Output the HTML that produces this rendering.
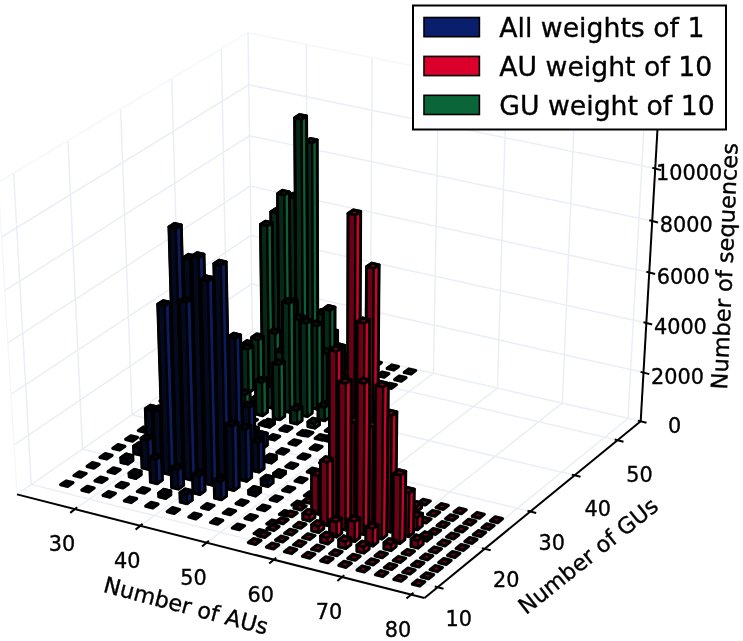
<!DOCTYPE html><html><head><meta charset="utf-8"><title>chart</title><style>html,body{margin:0;padding:0;background:#fff}svg{display:block}</style></head><body><svg width="743" height="641" viewBox="0 0 743 641" font-family="'DejaVu Sans','Liberation Sans',sans-serif" ><style>text{stroke:#000;stroke-width:0.35px}</style><rect width="743" height="641" fill="#fff"/><g fill="none" stroke="#ebeff5" stroke-width="1.5"><polyline points="74.9,509.2 307.7,344.3 306.3,44.5"/><polyline points="140.3,525.8 370.1,358.7 372.2,57.7"/><polyline points="206.6,542.6 433.4,373.3 438.9,71.1"/><polyline points="273.8,559.7 497.4,388.2 506.6,84.7"/><polyline points="342.0,577.1 562.3,403.2 575.2,98.5"/><polyline points="411.1,594.6 628.0,418.4 644.8,112.4"/><polyline points="437.7,587.3 31.3,484.5 13.6,173.3"/><polyline points="484.8,548.8 82.5,449.1 67.9,140.7"/><polyline points="530.4,511.5 132.1,414.8 120.6,109.1"/><polyline points="574.7,475.3 180.4,381.4 171.8,78.5"/><polyline points="617.6,440.2 227.2,348.9 221.3,48.8"/><polyline points="14.1,444.9 251.7,283.9 643.5,372.6"/><polyline points="11.0,394.4 251.0,235.4 646.4,323.0"/><polyline points="7.9,342.9 250.3,186.1 649.3,272.5"/><polyline points="4.8,290.5 249.5,135.9 652.2,221.0"/><polyline points="1.6,237.0 248.8,84.8 655.2,168.6"/><polyline points="17.0,494.4 252.4,331.5 640.7,421.3"/><polyline points="252.4,331.5 248.0,32.8"/></g><g fill="none" stroke="#f4f6f9" stroke-width="1.3"><polyline points="17.0,494.4 -1.7,182.4 248.0,32.8 658.3,115.1"/></g><g><g stroke="#000" stroke-linejoin="round"><polygon points="252.0,337.1 258.5,338.6 263.3,335.3 256.8,333.8" fill="#032112" stroke-width="3.3"/><polygon points="268.7,341.0 275.2,342.5 280.0,339.1 273.5,337.6" fill="#032112" stroke-width="3.3"/><polygon points="285.5,344.9 292.0,346.4 296.7,343.0 290.2,341.5" fill="#032112" stroke-width="3.3"/><polygon points="302.3,348.7 308.8,350.3 308.8,347.9 302.3,346.4" fill="#042916" stroke-width="2.3"/><polygon points="308.8,350.3 313.5,346.9 313.5,344.5 308.8,347.9" fill="#0a6135" stroke-width="2.3"/><polygon points="302.3,346.4 308.8,347.9 313.5,344.5 307.0,343.0" fill="#032112" stroke-width="2.9"/><polygon points="302.3,348.7 308.8,350.3 313.5,346.9 313.5,344.5 307.0,343.0 302.3,346.4" fill="none" stroke-width="2.9"/><polygon points="319.1,352.7 325.7,354.2 325.7,350.6 319.1,349.1" fill="#042916" stroke-width="2.3"/><polygon points="325.7,354.2 330.4,350.8 330.4,347.3 325.7,350.6" fill="#0a6135" stroke-width="2.3"/><polygon points="319.1,349.1 325.7,350.6 330.4,347.3 323.8,345.7" fill="#032112" stroke-width="2.9"/><polygon points="319.1,352.7 325.7,354.2 330.4,350.8 330.4,347.3 323.8,345.7 319.1,349.1" fill="none" stroke-width="2.9"/><polygon points="336.1,356.6 342.6,358.1 347.3,354.7 340.8,353.2" fill="#032112" stroke-width="3.3"/><polygon points="353.0,360.5 359.6,362.1 364.3,358.7 357.7,357.1" fill="#032112" stroke-width="3.3"/><polygon points="370.1,364.5 376.7,366.0 381.3,362.6 374.7,361.1" fill="#032112" stroke-width="3.3"/><polygon points="387.2,368.4 393.8,370.0 398.4,366.6 391.8,365.0" fill="#032112" stroke-width="3.3"/><polygon points="404.3,372.4 411.0,374.0 415.6,370.5 408.9,369.0" fill="#032112" stroke-width="3.3"/><polygon points="242.1,344.0 248.5,345.5 253.3,342.2 246.9,340.7" fill="#032112" stroke-width="3.3"/><polygon points="258.8,347.9 265.3,349.4 270.1,346.1 263.6,344.6" fill="#032112" stroke-width="3.3"/><polygon points="275.6,351.8 282.1,353.3 282.0,346.2 275.5,344.7" fill="#042916" stroke-width="2.3"/><polygon points="282.1,353.3 286.9,350.0 286.8,342.9 282.0,346.2" fill="#0a6135" stroke-width="2.3"/><polygon points="275.5,344.7 282.0,346.2 286.8,342.9 280.3,341.3" fill="#032112" stroke-width="2.9"/><polygon points="275.6,351.8 282.1,353.3 286.9,350.0 286.8,342.9 280.3,341.3 275.5,344.7" fill="none" stroke-width="2.9"/><polygon points="292.4,355.7 298.9,357.3 298.8,338.2 292.3,336.7" fill="#042916" stroke-width="2.3"/><polygon points="298.9,357.3 303.7,353.9 303.6,334.8 298.8,338.2" fill="#0a6135" stroke-width="2.3"/><polygon points="292.3,336.7 298.8,338.2 303.6,334.8 297.0,333.3" fill="#032112" stroke-width="2.9"/><polygon points="292.4,355.7 298.9,357.3 303.7,353.9 303.6,334.8 297.0,333.3 292.3,336.7" fill="none" stroke-width="2.9"/><polygon points="309.3,359.7 315.9,361.2 315.8,332.5 309.2,331.0" fill="#042916" stroke-width="2.3"/><polygon points="315.9,361.2 320.6,357.8 320.5,329.2 315.8,332.5" fill="#0a6135" stroke-width="2.3"/><polygon points="309.2,331.0 315.8,332.5 320.5,329.2 313.9,327.6" fill="#032112" stroke-width="2.9"/><polygon points="309.3,359.7 315.9,361.2 320.6,357.8 320.5,329.2 313.9,327.6 309.2,331.0" fill="none" stroke-width="2.9"/><polygon points="326.3,363.6 332.8,365.2 332.8,333.7 326.2,332.1" fill="#042916" stroke-width="2.3"/><polygon points="332.8,365.2 337.6,361.8 337.6,330.3 332.8,333.7" fill="#0a6135" stroke-width="2.3"/><polygon points="326.2,332.1 332.8,333.7 337.6,330.3 331.0,328.8" fill="#032112" stroke-width="2.9"/><polygon points="326.3,363.6 332.8,365.2 337.6,361.8 337.6,330.3 331.0,328.8 326.2,332.1" fill="none" stroke-width="2.9"/><polygon points="343.3,367.6 349.9,369.1 349.9,364.4 343.3,362.8" fill="#042916" stroke-width="2.3"/><polygon points="349.9,369.1 354.6,365.7 354.6,360.9 349.9,364.4" fill="#0a6135" stroke-width="2.3"/><polygon points="343.3,362.8 349.9,364.4 354.6,360.9 348.0,359.4" fill="#032112" stroke-width="2.9"/><polygon points="343.3,367.6 349.9,369.1 354.6,365.7 354.6,360.9 348.0,359.4 343.3,362.8" fill="none" stroke-width="2.9"/><polygon points="360.3,371.6 367.0,373.1 371.7,369.7 365.0,368.1" fill="#032112" stroke-width="3.3"/><polygon points="377.5,375.6 384.1,377.1 388.8,373.7 382.1,372.1" fill="#032112" stroke-width="3.3"/><polygon points="394.7,379.6 401.3,381.1 406.0,377.7 399.3,376.1" fill="#032112" stroke-width="3.3"/><polygon points="232.0,351.0 238.5,352.5 243.3,349.1 236.9,347.6" fill="#032112" stroke-width="3.3"/><polygon points="248.8,354.9 255.3,356.4 260.1,353.0 253.6,351.5" fill="#032112" stroke-width="3.3"/><polygon points="265.6,358.8 272.1,360.4 271.8,333.6 265.3,332.1" fill="#042916" stroke-width="2.3"/><polygon points="272.1,360.4 276.9,357.0 276.6,330.3 271.8,333.6" fill="#0a6135" stroke-width="2.3"/><polygon points="265.3,332.1 271.8,333.6 276.6,330.3 270.1,328.8" fill="#032112" stroke-width="2.9"/><polygon points="265.6,358.8 272.1,360.4 276.9,357.0 276.6,330.3 270.1,328.8 265.3,332.1" fill="none" stroke-width="2.9"/><polygon points="282.5,362.8 289.0,364.3 288.4,292.0 281.8,290.5" fill="#042916" stroke-width="2.3"/><polygon points="289.0,364.3 293.8,360.9 293.3,288.6 288.4,292.0" fill="#0a6135" stroke-width="2.3"/><polygon points="281.8,290.5 288.4,292.0 293.3,288.6 286.6,287.1" fill="#032112" stroke-width="2.9"/><polygon points="282.5,362.8 289.0,364.3 293.8,360.9 293.3,288.6 286.6,287.1 281.8,290.5" fill="none" stroke-width="2.9"/><polygon points="299.4,366.7 306.0,368.3 305.4,258.9 298.7,257.4" fill="#042916" stroke-width="2.3"/><polygon points="306.0,368.3 310.7,364.9 310.3,255.6 305.4,258.9" fill="#0a6135" stroke-width="2.3"/><polygon points="298.7,257.4 305.4,258.9 310.3,255.6 303.6,254.1" fill="#032112" stroke-width="2.9"/><polygon points="299.4,366.7 306.0,368.3 310.7,364.9 310.3,255.6 303.6,254.1 298.7,257.4" fill="none" stroke-width="2.9"/><polygon points="316.4,370.7 323.0,372.3 322.9,314.4 316.2,312.9" fill="#042916" stroke-width="2.3"/><polygon points="323.0,372.3 327.7,368.8 327.7,311.0 322.9,314.4" fill="#0a6135" stroke-width="2.3"/><polygon points="316.2,312.9 322.9,314.4 327.7,311.0 321.0,309.5" fill="#032112" stroke-width="2.9"/><polygon points="316.4,370.7 323.0,372.3 327.7,368.8 327.7,311.0 321.0,309.5 316.2,312.9" fill="none" stroke-width="2.9"/><polygon points="333.4,374.7 340.1,376.2 340.1,348.7 333.4,347.1" fill="#042916" stroke-width="2.3"/><polygon points="340.1,376.2 344.8,372.8 344.8,345.3 340.1,348.7" fill="#0a6135" stroke-width="2.3"/><polygon points="333.4,347.1 340.1,348.7 344.8,345.3 338.2,343.7" fill="#032112" stroke-width="2.9"/><polygon points="333.4,374.7 340.1,376.2 344.8,372.8 344.8,345.3 338.2,343.7 333.4,347.1" fill="none" stroke-width="2.9"/><polygon points="350.5,378.7 357.2,380.3 361.9,376.8 355.3,375.3" fill="#032112" stroke-width="3.3"/><polygon points="367.7,382.7 374.4,384.3 379.1,380.8 372.4,379.3" fill="#032112" stroke-width="3.3"/><polygon points="384.9,386.7 391.6,388.3 396.3,384.8 389.6,383.3" fill="#032112" stroke-width="3.3"/><polygon points="221.9,358.0 228.4,359.5 233.3,356.1 226.8,354.6" fill="#032112" stroke-width="3.3"/><polygon points="238.7,361.9 245.2,363.5 245.2,358.7 238.6,357.2" fill="#042916" stroke-width="2.3"/><polygon points="245.2,363.5 250.1,360.1 250.0,355.3 245.2,358.7" fill="#0a6135" stroke-width="2.3"/><polygon points="238.6,357.2 245.2,358.7 250.0,355.3 243.5,353.8" fill="#032112" stroke-width="2.9"/><polygon points="238.7,361.9 245.2,363.5 250.1,360.1 250.0,355.3 243.5,353.8 238.6,357.2" fill="none" stroke-width="2.9"/><polygon points="255.6,365.9 262.1,367.4 261.7,339.8 255.2,338.3" fill="#042916" stroke-width="2.3"/><polygon points="262.1,367.4 266.9,364.0 266.6,336.5 261.7,339.8" fill="#0a6135" stroke-width="2.3"/><polygon points="255.2,338.3 261.7,339.8 266.6,336.5 260.0,334.9" fill="#032112" stroke-width="2.9"/><polygon points="255.6,365.9 262.1,367.4 266.9,364.0 266.6,336.5 260.0,334.9 255.2,338.3" fill="none" stroke-width="2.9"/><polygon points="272.5,369.9 279.0,371.4 277.4,213.4 270.7,211.9" fill="#042916" stroke-width="2.3"/><polygon points="279.0,371.4 283.9,368.0 282.4,210.1 277.4,213.4" fill="#0a6135" stroke-width="2.3"/><polygon points="270.7,211.9 277.4,213.4 282.4,210.1 275.6,208.6" fill="#032112" stroke-width="2.9"/><polygon points="272.5,369.9 279.0,371.4 283.9,368.0 282.4,210.1 275.6,208.6 270.7,211.9" fill="none" stroke-width="2.9"/><polygon points="289.4,373.8 296.0,375.4 294.8,197.9 288.0,196.4" fill="#042916" stroke-width="2.3"/><polygon points="296.0,375.4 300.8,372.0 299.7,194.6 294.8,197.9" fill="#0a6135" stroke-width="2.3"/><polygon points="288.0,196.4 294.8,197.9 299.7,194.6 292.9,193.1" fill="#032112" stroke-width="2.9"/><polygon points="289.4,373.8 296.0,375.4 300.8,372.0 299.7,194.6 292.9,193.1 288.0,196.4" fill="none" stroke-width="2.9"/><polygon points="306.5,377.8 313.1,379.4 312.2,143.0 305.3,141.6" fill="#042916" stroke-width="2.3"/><polygon points="313.1,379.4 317.9,375.9 317.2,139.8 312.2,143.0" fill="#0a6135" stroke-width="2.3"/><polygon points="305.3,141.6 312.2,143.0 317.2,139.8 310.3,138.4" fill="#032112" stroke-width="2.9"/><polygon points="306.5,377.8 313.1,379.4 317.9,375.9 317.2,139.8 310.3,138.4 305.3,141.6" fill="none" stroke-width="2.9"/><polygon points="323.5,381.9 330.2,383.4 330.1,310.5 323.4,308.9" fill="#042916" stroke-width="2.3"/><polygon points="330.2,383.4 334.9,380.0 335.0,307.1 330.1,310.5" fill="#0a6135" stroke-width="2.3"/><polygon points="323.4,308.9 330.1,310.5 335.0,307.1 328.2,305.5" fill="#032112" stroke-width="2.9"/><polygon points="323.5,381.9 330.2,383.4 334.9,380.0 335.0,307.1 328.2,305.5 323.4,308.9" fill="none" stroke-width="2.9"/><polygon points="340.7,385.9 347.4,387.4 347.4,380.3 340.7,378.7" fill="#042916" stroke-width="2.3"/><polygon points="347.4,387.4 352.1,384.0 352.1,376.8 347.4,380.3" fill="#0a6135" stroke-width="2.3"/><polygon points="340.7,378.7 347.4,380.3 352.1,376.8 345.5,375.2" fill="#032112" stroke-width="2.9"/><polygon points="340.7,385.9 347.4,387.4 352.1,384.0 352.1,376.8 345.5,375.2 340.7,378.7" fill="none" stroke-width="2.9"/><polygon points="357.9,389.9 364.6,391.5 369.3,388.0 362.6,386.4" fill="#032112" stroke-width="3.3"/><polygon points="375.2,394.0 381.9,395.5 386.6,392.1 379.9,390.5" fill="#032112" stroke-width="3.3"/><polygon points="211.8,365.0 218.3,366.6 223.2,363.2 216.7,361.6" fill="#032112" stroke-width="3.3"/><polygon points="228.6,369.0 235.1,370.5 235.1,367.0 228.5,365.4" fill="#042916" stroke-width="2.3"/><polygon points="235.1,370.5 240.0,367.1 239.9,363.6 235.1,367.0" fill="#0a6135" stroke-width="2.3"/><polygon points="228.5,365.4 235.1,367.0 239.9,363.6 233.4,362.0" fill="#032112" stroke-width="2.9"/><polygon points="228.6,369.0 235.1,370.5 240.0,367.1 239.9,363.6 233.4,362.0 228.5,365.4" fill="none" stroke-width="2.9"/><polygon points="245.5,373.0 252.0,374.5 251.7,354.9 245.1,353.3" fill="#042916" stroke-width="2.3"/><polygon points="252.0,374.5 256.9,371.1 256.6,351.5 251.7,354.9" fill="#0a6135" stroke-width="2.3"/><polygon points="245.1,353.3 251.7,354.9 256.6,351.5 250.0,349.9" fill="#032112" stroke-width="2.9"/><polygon points="245.5,373.0 252.0,374.5 256.9,371.1 256.6,351.5 250.0,349.9 245.1,353.3" fill="none" stroke-width="2.9"/><polygon points="262.4,377.0 269.0,378.5 267.2,226.0 260.4,224.5" fill="#042916" stroke-width="2.3"/><polygon points="269.0,378.5 273.8,375.1 272.2,222.7 267.2,226.0" fill="#0a6135" stroke-width="2.3"/><polygon points="260.4,224.5 267.2,226.0 272.2,222.7 265.4,221.2" fill="#032112" stroke-width="2.9"/><polygon points="262.4,377.0 269.0,378.5 273.8,375.1 272.2,222.7 265.4,221.2 260.4,224.5" fill="none" stroke-width="2.9"/><polygon points="279.4,381.0 286.0,382.5 284.4,195.1 277.5,193.6" fill="#042916" stroke-width="2.3"/><polygon points="286.0,382.5 290.8,379.1 289.4,191.8 284.4,195.1" fill="#0a6135" stroke-width="2.3"/><polygon points="277.5,193.6 284.4,195.1 289.4,191.8 282.5,190.3" fill="#032112" stroke-width="2.9"/><polygon points="279.4,381.0 286.0,382.5 290.8,379.1 289.4,191.8 282.5,190.3 277.5,193.6" fill="none" stroke-width="2.9"/><polygon points="296.5,385.0 303.1,386.6 301.6,119.2 294.6,117.8" fill="#042916" stroke-width="2.3"/><polygon points="303.1,386.6 307.9,383.1 306.6,116.0 301.6,119.2" fill="#0a6135" stroke-width="2.3"/><polygon points="294.6,117.8 301.6,119.2 306.6,116.0 299.7,114.6" fill="#032112" stroke-width="2.9"/><polygon points="296.5,385.0 303.1,386.6 307.9,383.1 306.6,116.0 299.7,114.6 294.6,117.8" fill="none" stroke-width="2.9"/><polygon points="313.6,389.0 320.2,390.6 320.2,354.4 313.5,352.9" fill="#042916" stroke-width="2.3"/><polygon points="320.2,390.6 325.0,387.1 325.0,351.0 320.2,354.4" fill="#0a6135" stroke-width="2.3"/><polygon points="313.5,352.9 320.2,354.4 325.0,351.0 318.3,349.4" fill="#032112" stroke-width="2.9"/><polygon points="313.6,389.0 320.2,390.6 325.0,387.1 325.0,351.0 318.3,349.4 313.5,352.9" fill="none" stroke-width="2.9"/><polygon points="330.8,393.1 337.5,394.7 337.5,385.1 330.8,383.5" fill="#042916" stroke-width="2.3"/><polygon points="337.5,394.7 342.2,391.2 342.2,381.6 337.5,385.1" fill="#0a6135" stroke-width="2.3"/><polygon points="330.8,383.5 337.5,385.1 342.2,381.6 335.6,380.0" fill="#032112" stroke-width="2.9"/><polygon points="330.8,393.1 337.5,394.7 342.2,391.2 342.2,381.6 335.6,380.0 330.8,383.5" fill="none" stroke-width="2.9"/><polygon points="348.0,397.2 354.7,398.7 359.5,395.2 352.8,393.7" fill="#032112" stroke-width="3.3"/><polygon points="365.3,401.2 372.0,402.8 376.8,399.3 370.1,397.7" fill="#032112" stroke-width="3.3"/><polygon points="201.5,372.1 208.1,373.7 213.0,370.3 206.5,368.7" fill="#032112" stroke-width="3.3"/><polygon points="218.4,376.1 224.9,377.7 229.9,374.2 223.3,372.7" fill="#032112" stroke-width="3.3"/><polygon points="235.3,380.1 241.9,381.7 241.8,374.5 235.2,373.0" fill="#042916" stroke-width="2.3"/><polygon points="241.9,381.7 246.8,378.2 246.7,371.1 241.8,374.5" fill="#0a6135" stroke-width="2.3"/><polygon points="235.2,373.0 241.8,374.5 246.7,371.1 240.1,369.5" fill="#032112" stroke-width="2.9"/><polygon points="235.3,380.1 241.9,381.7 246.8,378.2 246.7,371.1 240.1,369.5 235.2,373.0" fill="none" stroke-width="2.9"/><polygon points="252.3,384.1 258.9,385.7 258.3,339.9 251.6,338.3" fill="#042916" stroke-width="2.3"/><polygon points="258.9,385.7 263.8,382.2 263.2,336.5 258.3,339.9" fill="#0a6135" stroke-width="2.3"/><polygon points="251.6,338.3 258.3,339.9 263.2,336.5 256.5,334.9" fill="#032112" stroke-width="2.9"/><polygon points="252.3,384.1 258.9,385.7 263.8,382.2 263.2,336.5 256.5,334.9 251.6,338.3" fill="none" stroke-width="2.9"/><polygon points="269.3,388.2 275.9,389.8 275.3,333.7 268.7,332.1" fill="#042916" stroke-width="2.3"/><polygon points="275.9,389.8 280.8,386.3 280.3,330.3 275.3,333.7" fill="#0a6135" stroke-width="2.3"/><polygon points="268.7,332.1 275.3,333.7 280.3,330.3 273.6,328.7" fill="#032112" stroke-width="2.9"/><polygon points="269.3,388.2 275.9,389.8 280.8,386.3 280.3,330.3 273.6,328.7 268.7,332.1" fill="none" stroke-width="2.9"/><polygon points="286.4,392.2 293.1,393.8 292.4,303.5 285.6,301.9" fill="#042916" stroke-width="2.3"/><polygon points="293.1,393.8 297.9,390.3 297.3,300.1 292.4,303.5" fill="#0a6135" stroke-width="2.3"/><polygon points="285.6,301.9 292.4,303.5 297.3,300.1 290.6,298.5" fill="#032112" stroke-width="2.9"/><polygon points="286.4,392.2 293.1,393.8 297.9,390.3 297.3,300.1 290.6,298.5 285.6,301.9" fill="none" stroke-width="2.9"/><polygon points="303.6,396.3 310.2,397.9 309.9,324.9 303.2,323.4" fill="#042916" stroke-width="2.3"/><polygon points="310.2,397.9 315.1,394.4 314.8,321.5 309.9,324.9" fill="#0a6135" stroke-width="2.3"/><polygon points="303.2,323.4 309.9,324.9 314.8,321.5 308.1,319.9" fill="#032112" stroke-width="2.9"/><polygon points="303.6,396.3 310.2,397.9 315.1,394.4 314.8,321.5 308.1,319.9 303.2,323.4" fill="none" stroke-width="2.9"/><polygon points="320.8,400.4 327.5,402.0 327.4,353.5 320.7,351.9" fill="#042916" stroke-width="2.3"/><polygon points="327.5,402.0 332.3,398.4 332.3,350.0 327.4,353.5" fill="#0a6135" stroke-width="2.3"/><polygon points="320.7,351.9 327.4,353.5 332.3,350.0 325.5,348.4" fill="#032112" stroke-width="2.9"/><polygon points="320.8,400.4 327.5,402.0 332.3,398.4 332.3,350.0 325.5,348.4 320.7,351.9" fill="none" stroke-width="2.9"/><polygon points="338.1,404.5 344.8,406.1 344.8,398.8 338.1,397.2" fill="#042916" stroke-width="2.3"/><polygon points="344.8,406.1 349.6,402.5 349.6,395.3 344.8,398.8" fill="#0a6135" stroke-width="2.3"/><polygon points="338.1,397.2 344.8,398.8 349.6,395.3 342.9,393.7" fill="#032112" stroke-width="2.9"/><polygon points="338.1,404.5 344.8,406.1 349.6,402.5 349.6,395.3 342.9,393.7 338.1,397.2" fill="none" stroke-width="2.9"/><polygon points="355.4,408.6 362.2,410.2 366.9,406.6 360.2,405.0" fill="#032112" stroke-width="3.3"/><polygon points="191.2,379.3 197.8,380.8 202.7,377.4 196.2,375.8" fill="#032112" stroke-width="3.3"/><polygon points="208.1,383.3 214.7,384.8 219.6,381.4 213.1,379.8" fill="#032112" stroke-width="3.3"/><polygon points="225.1,387.3 231.7,388.9 231.6,386.5 225.0,384.9" fill="#042916" stroke-width="2.3"/><polygon points="231.7,388.9 236.6,385.4 236.6,383.0 231.6,386.5" fill="#0a6135" stroke-width="2.3"/><polygon points="225.0,384.9 231.6,386.5 236.6,383.0 230.0,381.5" fill="#032112" stroke-width="2.9"/><polygon points="225.1,387.3 231.7,388.9 236.6,385.4 236.6,383.0 230.0,381.5 225.0,384.9" fill="none" stroke-width="2.9"/><polygon points="242.1,391.4 248.7,392.9 248.0,349.4 241.4,347.9" fill="#042916" stroke-width="2.3"/><polygon points="248.7,392.9 253.6,389.4 253.0,346.0 248.0,349.4" fill="#0a6135" stroke-width="2.3"/><polygon points="241.4,347.9 248.0,349.4 253.0,346.0 246.3,344.4" fill="#032112" stroke-width="2.9"/><polygon points="242.1,391.4 248.7,392.9 253.6,389.4 253.0,346.0 246.3,344.4 241.4,347.9" fill="none" stroke-width="2.9"/><polygon points="259.2,395.4 265.8,397.0 265.6,382.5 259.0,380.9" fill="#042916" stroke-width="2.3"/><polygon points="265.8,397.0 270.7,393.5 270.5,379.0 265.6,382.5" fill="#0a6135" stroke-width="2.3"/><polygon points="259.0,380.9 265.6,382.5 270.5,379.0 263.9,377.5" fill="#032112" stroke-width="2.9"/><polygon points="259.2,395.4 265.8,397.0 270.7,393.5 270.5,379.0 263.9,377.5 259.0,380.9" fill="none" stroke-width="2.9"/><polygon points="276.3,399.5 283.0,401.1 282.5,352.6 275.8,351.0" fill="#042916" stroke-width="2.3"/><polygon points="283.0,401.1 287.8,397.6 287.4,349.1 282.5,352.6" fill="#0a6135" stroke-width="2.3"/><polygon points="275.8,351.0 282.5,352.6 287.4,349.1 280.7,347.6" fill="#032112" stroke-width="2.9"/><polygon points="276.3,399.5 283.0,401.1 287.8,397.6 287.4,349.1 280.7,347.6 275.8,351.0" fill="none" stroke-width="2.9"/><polygon points="293.5,403.6 300.2,405.2 299.7,319.7 292.9,318.1" fill="#042916" stroke-width="2.3"/><polygon points="300.2,405.2 305.0,401.6 304.6,316.2 299.7,319.7" fill="#0a6135" stroke-width="2.3"/><polygon points="292.9,318.1 299.7,319.7 304.6,316.2 297.8,314.7" fill="#032112" stroke-width="2.9"/><polygon points="293.5,403.6 300.2,405.2 305.0,401.6 304.6,316.2 297.8,314.7 292.9,318.1" fill="none" stroke-width="2.9"/><polygon points="310.8,407.7 317.5,409.3 317.2,326.2 310.4,324.6" fill="#042916" stroke-width="2.3"/><polygon points="317.5,409.3 322.3,405.7 322.1,322.7 317.2,326.2" fill="#0a6135" stroke-width="2.3"/><polygon points="310.4,324.6 317.2,326.2 322.1,322.7 315.3,321.2" fill="#032112" stroke-width="2.9"/><polygon points="310.8,407.7 317.5,409.3 322.3,405.7 322.1,322.7 315.3,321.2 310.4,324.6" fill="none" stroke-width="2.9"/><polygon points="328.1,411.8 334.8,413.4 334.8,384.3 328.0,382.8" fill="#042916" stroke-width="2.3"/><polygon points="334.8,413.4 339.6,409.9 339.7,380.8 334.8,384.3" fill="#0a6135" stroke-width="2.3"/><polygon points="328.0,382.8 334.8,384.3 339.7,380.8 332.9,379.2" fill="#032112" stroke-width="2.9"/><polygon points="328.1,411.8 334.8,413.4 339.6,409.9 339.7,380.8 332.9,379.2 328.0,382.8" fill="none" stroke-width="2.9"/><polygon points="345.5,415.9 352.2,417.5 357.0,414.0 350.3,412.4" fill="#032112" stroke-width="3.3"/><polygon points="180.9,386.5 187.4,388.0 192.4,384.5 185.9,383.0" fill="#032112" stroke-width="3.3"/><polygon points="197.8,390.5 204.4,392.1 209.4,388.6 202.8,387.0" fill="#032112" stroke-width="3.3"/><polygon points="214.8,394.6 221.4,396.1 226.4,392.6 219.8,391.1" fill="#032112" stroke-width="3.3"/><polygon points="231.9,398.6 238.5,400.2 243.4,396.7 236.8,395.1" fill="#032112" stroke-width="3.3"/><polygon points="249.0,402.7 255.6,404.3 255.6,401.9 248.9,400.3" fill="#042916" stroke-width="2.3"/><polygon points="255.6,404.3 260.5,400.8 260.5,398.4 255.6,401.9" fill="#0a6135" stroke-width="2.3"/><polygon points="248.9,400.3 255.6,401.9 260.5,398.4 253.9,396.8" fill="#032112" stroke-width="2.9"/><polygon points="249.0,402.7 255.6,404.3 260.5,400.8 260.5,398.4 253.9,396.8 248.9,400.3" fill="none" stroke-width="2.9"/><polygon points="266.1,406.8 272.8,408.4 272.6,386.7 265.9,385.1" fill="#042916" stroke-width="2.3"/><polygon points="272.8,408.4 277.7,404.9 277.5,383.1 272.6,386.7" fill="#0a6135" stroke-width="2.3"/><polygon points="265.9,385.1 272.6,386.7 277.5,383.1 270.8,381.6" fill="#032112" stroke-width="2.9"/><polygon points="266.1,406.8 272.8,408.4 277.7,404.9 277.5,383.1 270.8,381.6 265.9,385.1" fill="none" stroke-width="2.9"/><polygon points="283.4,410.9 290.1,412.5 289.2,303.5 282.3,302.0" fill="#042916" stroke-width="2.3"/><polygon points="290.1,412.5 294.9,409.0 294.2,300.1 289.2,303.5" fill="#0a6135" stroke-width="2.3"/><polygon points="282.3,302.0 289.2,303.5 294.2,300.1 287.3,298.5" fill="#032112" stroke-width="2.9"/><polygon points="283.4,410.9 290.1,412.5 294.9,409.0 294.2,300.1 287.3,298.5 282.3,302.0" fill="none" stroke-width="2.9"/><polygon points="300.7,415.0 307.4,416.7 306.9,323.4 300.1,321.9" fill="#042916" stroke-width="2.3"/><polygon points="307.4,416.7 312.2,413.1 311.9,320.0 306.9,323.4" fill="#0a6135" stroke-width="2.3"/><polygon points="300.1,321.9 306.9,323.4 311.9,320.0 305.0,318.4" fill="#032112" stroke-width="2.9"/><polygon points="300.7,415.0 307.4,416.7 312.2,413.1 311.9,320.0 305.0,318.4 300.1,321.9" fill="none" stroke-width="2.9"/><polygon points="318.0,419.2 324.8,420.8 324.7,407.5 318.0,405.9" fill="#042916" stroke-width="2.3"/><polygon points="324.8,420.8 329.6,417.2 329.6,403.9 324.7,407.5" fill="#0a6135" stroke-width="2.3"/><polygon points="318.0,405.9 324.7,407.5 329.6,403.9 322.8,402.3" fill="#032112" stroke-width="2.9"/><polygon points="318.0,419.2 324.8,420.8 329.6,417.2 329.6,403.9 322.8,402.3 318.0,405.9" fill="none" stroke-width="2.9"/><polygon points="335.4,423.3 342.2,425.0 347.0,421.4 340.3,419.8" fill="#032112" stroke-width="3.3"/><polygon points="170.5,393.7 177.0,395.3 182.1,391.8 175.5,390.2" fill="#032112" stroke-width="3.3"/><polygon points="187.4,397.7 194.0,399.3 199.0,395.8 192.5,394.2" fill="#032112" stroke-width="3.3"/><polygon points="204.5,401.8 211.1,403.4 216.1,399.9 209.5,398.3" fill="#032112" stroke-width="3.3"/><polygon points="221.6,405.9 228.2,407.5 233.2,404.0 226.5,402.4" fill="#032112" stroke-width="3.3"/><polygon points="238.7,410.0 245.4,411.6 245.1,394.7 238.4,393.1" fill="#042916" stroke-width="2.3"/><polygon points="245.4,411.6 250.3,408.1 250.0,391.2 245.1,394.7" fill="#0a6135" stroke-width="2.3"/><polygon points="238.4,393.1 245.1,394.7 250.0,391.2 243.4,389.6" fill="#032112" stroke-width="2.9"/><polygon points="238.7,410.0 245.4,411.6 250.3,408.1 250.0,391.2 243.4,389.6 238.4,393.1" fill="none" stroke-width="2.9"/><polygon points="255.9,414.2 262.6,415.8 262.1,382.6 255.4,381.0" fill="#042916" stroke-width="2.3"/><polygon points="262.6,415.8 267.5,412.2 267.1,379.0 262.1,382.6" fill="#0a6135" stroke-width="2.3"/><polygon points="255.4,381.0 262.1,382.6 267.1,379.0 260.4,377.5" fill="#032112" stroke-width="2.9"/><polygon points="255.9,414.2 262.6,415.8 267.5,412.2 267.1,379.0 260.4,377.5 255.4,381.0" fill="none" stroke-width="2.9"/><polygon points="273.2,418.3 279.9,419.9 279.3,364.9 272.5,363.4" fill="#042916" stroke-width="2.3"/><polygon points="279.9,419.9 284.8,416.3 284.3,361.4 279.3,364.9" fill="#0a6135" stroke-width="2.3"/><polygon points="272.5,363.4 279.3,364.9 284.3,361.4 277.5,359.8" fill="#032112" stroke-width="2.9"/><polygon points="273.2,418.3 279.9,419.9 284.8,416.3 284.3,361.4 277.5,359.8 272.5,363.4" fill="none" stroke-width="2.9"/><polygon points="290.5,422.5 297.2,424.1 297.1,410.5 290.4,408.9" fill="#042916" stroke-width="2.3"/><polygon points="297.2,424.1 302.1,420.5 302.0,406.9 297.1,410.5" fill="#0a6135" stroke-width="2.3"/><polygon points="290.4,408.9 297.1,410.5 302.0,406.9 295.3,405.3" fill="#032112" stroke-width="2.9"/><polygon points="290.5,422.5 297.2,424.1 302.1,420.5 302.0,406.9 295.3,405.3 290.4,408.9" fill="none" stroke-width="2.9"/><polygon points="307.9,426.6 314.6,428.2 314.6,423.4 307.9,421.8" fill="#042916" stroke-width="2.3"/><polygon points="314.6,428.2 319.5,424.7 319.5,419.8 314.6,423.4" fill="#0a6135" stroke-width="2.3"/><polygon points="307.9,421.8 314.6,423.4 319.5,419.8 312.8,418.2" fill="#032112" stroke-width="2.9"/><polygon points="307.9,426.6 314.6,428.2 319.5,424.7 319.5,419.8 312.8,418.2 307.9,421.8" fill="none" stroke-width="2.9"/><polygon points="325.3,430.8 332.1,432.4 337.0,428.8 330.2,427.2" fill="#032112" stroke-width="3.3"/><polygon points="160.0,401.0 166.6,402.5 171.6,399.0 165.1,397.4" fill="#032112" stroke-width="3.3"/><polygon points="177.0,405.0 183.6,406.6 188.6,403.1 182.0,401.5" fill="#032112" stroke-width="3.3"/><polygon points="194.1,409.2 200.7,410.7 205.7,407.2 199.1,405.6" fill="#032112" stroke-width="3.3"/><polygon points="211.2,413.3 217.8,414.9 222.8,411.3 216.2,409.7" fill="#032112" stroke-width="3.3"/><polygon points="228.4,417.4 235.0,419.0 240.0,415.5 233.3,413.9" fill="#032112" stroke-width="3.3"/><polygon points="245.6,421.6 252.3,423.2 257.3,419.6 250.6,418.0" fill="#032112" stroke-width="3.3"/><polygon points="262.9,425.7 269.6,427.3 269.6,424.4 262.9,422.8" fill="#042916" stroke-width="2.3"/><polygon points="269.6,427.3 274.6,423.8 274.5,420.9 269.6,424.4" fill="#0a6135" stroke-width="2.3"/><polygon points="262.9,422.8 269.6,424.4 274.5,420.9 267.8,419.2" fill="#032112" stroke-width="2.9"/><polygon points="262.9,425.7 269.6,427.3 274.6,423.8 274.5,420.9 267.8,419.2 262.9,422.8" fill="none" stroke-width="2.9"/><polygon points="280.3,429.9 287.0,431.5 291.9,427.9 285.2,426.3" fill="#032112" stroke-width="3.3"/><polygon points="297.7,434.1 304.5,435.7 309.4,432.1 302.6,430.5" fill="#032112" stroke-width="3.3"/><polygon points="315.2,438.3 322.0,440.0 326.9,436.3 320.1,434.7" fill="#032112" stroke-width="3.3"/></g><g stroke="#000" stroke-linejoin="round"><polygon points="175.9,404.4 182.5,406.0 187.5,402.5 180.9,400.9" fill="#030920" stroke-width="3.3"/><polygon points="196.5,409.4 203.1,411.0 208.2,407.4 201.5,405.9" fill="#030920" stroke-width="3.3"/><polygon points="217.3,414.4 223.9,416.0 228.9,412.4 222.3,410.8" fill="#030920" stroke-width="3.3"/><polygon points="238.1,419.4 244.8,421.0 249.7,417.4 243.1,415.8" fill="#030920" stroke-width="3.3"/><polygon points="259.0,424.4 265.7,426.0 270.7,422.5 263.9,420.8" fill="#030920" stroke-width="3.3"/><polygon points="280.0,429.5 286.7,431.1 291.7,427.5 284.9,425.9" fill="#030920" stroke-width="3.3"/><polygon points="301.1,434.6 307.9,436.2 312.8,432.6 306.0,430.9" fill="#030920" stroke-width="3.3"/><polygon points="322.3,439.7 329.1,441.3 334.0,437.7 327.2,436.0" fill="#030920" stroke-width="3.3"/><polygon points="343.6,444.8 350.4,446.4 355.3,442.8 348.4,441.1" fill="#030920" stroke-width="3.3"/><polygon points="364.9,449.9 371.8,451.6 376.6,447.9 369.8,446.3" fill="#030920" stroke-width="3.3"/><polygon points="163.5,413.1 170.1,414.7 175.2,411.1 168.5,409.5" fill="#030920" stroke-width="3.3"/><polygon points="184.2,418.1 190.8,419.7 195.9,416.1 189.2,414.5" fill="#030920" stroke-width="3.3"/><polygon points="205.0,423.1 211.6,424.7 211.5,419.9 204.8,418.3" fill="#03091e" stroke-width="2.3"/><polygon points="211.6,424.7 216.7,421.1 216.5,416.3 211.5,419.9" fill="#091c60" stroke-width="2.3"/><polygon points="204.8,418.3 211.5,419.9 216.5,416.3 209.9,414.7" fill="#030920" stroke-width="2.9"/><polygon points="205.0,423.1 211.6,424.7 216.7,421.1 216.5,416.3 209.9,414.7 204.8,418.3" fill="none" stroke-width="2.9"/><polygon points="225.8,428.2 232.5,429.8 232.4,422.5 225.7,420.9" fill="#03091e" stroke-width="2.3"/><polygon points="232.5,429.8 237.5,426.2 237.4,418.9 232.4,422.5" fill="#091c60" stroke-width="2.3"/><polygon points="225.7,420.9 232.4,422.5 237.4,418.9 230.7,417.3" fill="#030920" stroke-width="2.9"/><polygon points="225.8,428.2 232.5,429.8 237.5,426.2 237.4,418.9 230.7,417.3 225.7,420.9" fill="none" stroke-width="2.9"/><polygon points="246.8,433.2 253.5,434.9 253.5,431.2 246.7,429.6" fill="#03091e" stroke-width="2.3"/><polygon points="253.5,434.9 258.5,431.3 258.5,427.6 253.5,431.2" fill="#091c60" stroke-width="2.3"/><polygon points="246.7,429.6 253.5,431.2 258.5,427.6 251.7,426.0" fill="#030920" stroke-width="2.9"/><polygon points="246.8,433.2 253.5,434.9 258.5,431.3 258.5,427.6 251.7,426.0 246.7,429.6" fill="none" stroke-width="2.9"/><polygon points="267.9,438.3 274.6,440.0 279.6,436.3 272.8,434.7" fill="#030920" stroke-width="3.3"/><polygon points="289.0,443.4 295.8,445.1 300.7,441.4 294.0,439.8" fill="#030920" stroke-width="3.3"/><polygon points="310.2,448.6 317.1,450.2 322.0,446.6 315.2,444.9" fill="#030920" stroke-width="3.3"/><polygon points="331.6,453.7 338.4,455.4 343.3,451.7 336.5,450.1" fill="#030920" stroke-width="3.3"/><polygon points="353.0,458.9 359.9,460.6 364.8,456.9 357.9,455.2" fill="#030920" stroke-width="3.3"/><polygon points="151.0,421.8 157.6,423.4 162.7,419.8 156.1,418.2" fill="#030920" stroke-width="3.3"/><polygon points="171.7,426.8 178.4,428.5 178.3,426.0 171.6,424.4" fill="#03091e" stroke-width="2.3"/><polygon points="178.4,428.5 183.5,424.9 183.4,422.5 178.3,426.0" fill="#091c60" stroke-width="2.3"/><polygon points="171.6,424.4 178.3,426.0 183.4,422.5 176.7,420.8" fill="#030920" stroke-width="2.9"/><polygon points="171.7,426.8 178.4,428.5 183.5,424.9 183.4,422.5 176.7,420.8 171.6,424.4" fill="none" stroke-width="2.9"/><polygon points="192.6,431.9 199.2,433.5 198.3,397.0 191.6,395.4" fill="#03091e" stroke-width="2.3"/><polygon points="199.2,433.5 204.3,429.9 203.4,393.4 198.3,397.0" fill="#091c60" stroke-width="2.3"/><polygon points="191.6,395.4 198.3,397.0 203.4,393.4 196.7,391.8" fill="#030920" stroke-width="2.9"/><polygon points="192.6,431.9 199.2,433.5 204.3,429.9 203.4,393.4 196.7,391.8 191.6,395.4" fill="none" stroke-width="2.9"/><polygon points="213.5,437.0 220.2,438.6 219.1,384.8 212.3,383.2" fill="#03091e" stroke-width="2.3"/><polygon points="220.2,438.6 225.3,435.0 224.2,381.2 219.1,384.8" fill="#091c60" stroke-width="2.3"/><polygon points="212.3,383.2 219.1,384.8 224.2,381.2 217.4,379.6" fill="#030920" stroke-width="2.9"/><polygon points="213.5,437.0 220.2,438.6 225.3,435.0 224.2,381.2 217.4,379.6 212.3,383.2" fill="none" stroke-width="2.9"/><polygon points="234.5,442.1 241.3,443.8 240.6,407.1 233.8,405.5" fill="#03091e" stroke-width="2.3"/><polygon points="241.3,443.8 246.3,440.1 245.7,403.5 240.6,407.1" fill="#091c60" stroke-width="2.3"/><polygon points="233.8,405.5 240.6,407.1 245.7,403.5 238.9,401.9" fill="#030920" stroke-width="2.9"/><polygon points="234.5,442.1 241.3,443.8 246.3,440.1 245.7,403.5 238.9,401.9 233.8,405.5" fill="none" stroke-width="2.9"/><polygon points="255.6,447.2 262.4,448.9 262.2,436.7 255.4,435.1" fill="#03091e" stroke-width="2.3"/><polygon points="262.4,448.9 267.4,445.2 267.2,433.1 262.2,436.7" fill="#091c60" stroke-width="2.3"/><polygon points="255.4,435.1 262.2,436.7 267.2,433.1 260.5,431.4" fill="#030920" stroke-width="2.9"/><polygon points="255.6,447.2 262.4,448.9 267.4,445.2 267.2,433.1 260.5,431.4 255.4,435.1" fill="none" stroke-width="2.9"/><polygon points="276.8,452.4 283.6,454.1 288.6,450.4 281.8,448.7" fill="#030920" stroke-width="3.3"/><polygon points="298.1,457.6 304.9,459.2 309.9,455.6 303.1,453.9" fill="#030920" stroke-width="3.3"/><polygon points="319.5,462.8 326.4,464.4 331.3,460.7 324.4,459.1" fill="#030920" stroke-width="3.3"/><polygon points="341.0,468.0 347.9,469.7 352.8,466.0 345.9,464.3" fill="#030920" stroke-width="3.3"/><polygon points="138.4,430.6 145.0,432.2 150.2,428.6 143.5,427.0" fill="#030920" stroke-width="3.3"/><polygon points="159.2,435.7 165.9,437.3 165.5,425.2 158.8,423.5" fill="#03091e" stroke-width="2.3"/><polygon points="165.9,437.3 171.0,433.7 170.6,421.6 165.5,425.2" fill="#091c60" stroke-width="2.3"/><polygon points="158.8,423.5 165.5,425.2 170.6,421.6 163.9,419.9" fill="#030920" stroke-width="2.9"/><polygon points="159.2,435.7 165.9,437.3 171.0,433.7 170.6,421.6 163.9,419.9 158.8,423.5" fill="none" stroke-width="2.9"/><polygon points="180.1,440.8 186.8,442.4 184.4,356.1 177.6,354.5" fill="#03091e" stroke-width="2.3"/><polygon points="186.8,442.4 191.9,438.8 189.6,352.6 184.4,356.1" fill="#091c60" stroke-width="2.3"/><polygon points="177.6,354.5 184.4,356.1 189.6,352.6 182.8,351.0" fill="#030920" stroke-width="2.9"/><polygon points="180.1,440.8 186.8,442.4 191.9,438.8 189.6,352.6 182.8,351.0 177.6,354.5" fill="none" stroke-width="2.9"/><polygon points="201.0,445.9 207.8,447.5 204.5,310.5 197.6,308.9" fill="#03091e" stroke-width="2.3"/><polygon points="207.8,447.5 212.9,443.9 209.8,307.0 204.5,310.5" fill="#091c60" stroke-width="2.3"/><polygon points="197.6,308.9 204.5,310.5 209.8,307.0 202.9,305.4" fill="#030920" stroke-width="2.9"/><polygon points="201.0,445.9 207.8,447.5 212.9,443.9 209.8,307.0 202.9,305.4 197.6,308.9" fill="none" stroke-width="2.9"/><polygon points="222.1,451.1 228.9,452.7 226.7,341.0 219.8,339.4" fill="#03091e" stroke-width="2.3"/><polygon points="228.9,452.7 233.9,449.0 231.9,337.4 226.7,341.0" fill="#091c60" stroke-width="2.3"/><polygon points="219.8,339.4 226.7,341.0 231.9,337.4 225.0,335.8" fill="#030920" stroke-width="2.9"/><polygon points="222.1,451.1 228.9,452.7 233.9,449.0 231.9,337.4 225.0,335.8 219.8,339.4" fill="none" stroke-width="2.9"/><polygon points="243.3,456.2 250.1,457.9 249.3,407.5 242.4,405.9" fill="#03091e" stroke-width="2.3"/><polygon points="250.1,457.9 255.1,454.2 254.4,403.9 249.3,407.5" fill="#091c60" stroke-width="2.3"/><polygon points="242.4,405.9 249.3,407.5 254.4,403.9 247.5,402.2" fill="#030920" stroke-width="2.9"/><polygon points="243.3,456.2 250.1,457.9 255.1,454.2 254.4,403.9 247.5,402.2 242.4,405.9" fill="none" stroke-width="2.9"/><polygon points="264.5,461.4 271.4,463.1 271.3,459.4 264.5,457.8" fill="#03091e" stroke-width="2.3"/><polygon points="271.4,463.1 276.4,459.4 276.3,455.7 271.3,459.4" fill="#091c60" stroke-width="2.3"/><polygon points="264.5,457.8 271.3,459.4 276.3,455.7 269.5,454.1" fill="#030920" stroke-width="2.9"/><polygon points="264.5,461.4 271.4,463.1 276.4,459.4 276.3,455.7 269.5,454.1 264.5,457.8" fill="none" stroke-width="2.9"/><polygon points="285.9,466.6 292.7,468.3 297.7,464.6 290.9,462.9" fill="#030920" stroke-width="3.3"/><polygon points="307.3,471.9 314.2,473.6 319.2,469.8 312.3,468.2" fill="#030920" stroke-width="3.3"/><polygon points="328.9,477.1 335.8,478.8 340.7,475.1 333.8,473.4" fill="#030920" stroke-width="3.3"/><polygon points="125.7,439.4 132.4,441.1 137.5,437.4 130.9,435.8" fill="#030920" stroke-width="3.3"/><polygon points="146.5,444.6 153.2,446.2 152.0,410.5 145.3,408.8" fill="#03091e" stroke-width="2.3"/><polygon points="153.2,446.2 158.4,442.6 157.2,406.8 152.0,410.5" fill="#091c60" stroke-width="2.3"/><polygon points="145.3,408.8 152.0,410.5 157.2,406.8 150.5,405.2" fill="#030920" stroke-width="2.9"/><polygon points="146.5,444.6 153.2,446.2 158.4,442.6 157.2,406.8 150.5,405.2 145.3,408.8" fill="none" stroke-width="2.9"/><polygon points="167.5,449.7 174.2,451.4 170.9,339.7 164.0,338.1" fill="#03091e" stroke-width="2.3"/><polygon points="174.2,451.4 179.4,447.7 176.1,336.1 170.9,339.7" fill="#091c60" stroke-width="2.3"/><polygon points="164.0,338.1 170.9,339.7 176.1,336.1 169.3,334.5" fill="#030920" stroke-width="2.9"/><polygon points="167.5,449.7 174.2,451.4 179.4,447.7 176.1,336.1 169.3,334.5 164.0,338.1" fill="none" stroke-width="2.9"/><polygon points="188.5,454.9 195.3,456.5 190.1,259.4 183.1,257.8" fill="#03091e" stroke-width="2.3"/><polygon points="195.3,456.5 200.4,452.9 195.5,255.9 190.1,259.4" fill="#091c60" stroke-width="2.3"/><polygon points="183.1,257.8 190.1,259.4 195.5,255.9 188.5,254.3" fill="#030920" stroke-width="2.9"/><polygon points="188.5,454.9 195.3,456.5 200.4,452.9 195.5,255.9 188.5,254.3 183.1,257.8" fill="none" stroke-width="2.9"/><polygon points="209.6,460.1 216.4,461.7 212.8,298.5 205.8,296.9" fill="#03091e" stroke-width="2.3"/><polygon points="216.4,461.7 221.5,458.0 218.1,294.9 212.8,298.5" fill="#091c60" stroke-width="2.3"/><polygon points="205.8,296.9 212.8,298.5 218.1,294.9 211.1,293.3" fill="#030920" stroke-width="2.9"/><polygon points="209.6,460.1 216.4,461.7 221.5,458.0 218.1,294.9 211.1,293.3 205.8,296.9" fill="none" stroke-width="2.9"/><polygon points="230.9,465.3 237.7,466.9 235.3,338.4 228.4,336.8" fill="#03091e" stroke-width="2.3"/><polygon points="237.7,466.9 242.8,463.2 240.6,334.8 235.3,338.4" fill="#091c60" stroke-width="2.3"/><polygon points="228.4,336.8 235.3,338.4 240.6,334.8 233.6,333.2" fill="#030920" stroke-width="2.9"/><polygon points="230.9,465.3 237.7,466.9 242.8,463.2 240.6,334.8 233.6,333.2 228.4,336.8" fill="none" stroke-width="2.9"/><polygon points="252.2,470.5 259.0,472.2 258.6,442.7 251.7,441.0" fill="#03091e" stroke-width="2.3"/><polygon points="259.0,472.2 264.1,468.5 263.7,439.0 258.6,442.7" fill="#091c60" stroke-width="2.3"/><polygon points="251.7,441.0 258.6,442.7 263.7,439.0 256.8,437.4" fill="#030920" stroke-width="2.9"/><polygon points="252.2,470.5 259.0,472.2 264.1,468.5 263.7,439.0 256.8,437.4 251.7,441.0" fill="none" stroke-width="2.9"/><polygon points="273.6,475.8 280.4,477.5 280.4,475.0 273.5,473.3" fill="#03091e" stroke-width="2.3"/><polygon points="280.4,477.5 285.5,473.7 285.5,471.3 280.4,475.0" fill="#091c60" stroke-width="2.3"/><polygon points="273.5,473.3 280.4,475.0 285.5,471.3 278.6,469.6" fill="#030920" stroke-width="2.9"/><polygon points="273.6,475.8 280.4,477.5 285.5,473.7 285.5,471.3 278.6,469.6 273.5,473.3" fill="none" stroke-width="2.9"/><polygon points="295.1,481.0 302.0,482.7 307.0,479.0 300.1,477.3" fill="#030920" stroke-width="3.3"/><polygon points="316.7,486.4 323.6,488.1 328.6,484.3 321.7,482.6" fill="#030920" stroke-width="3.3"/><polygon points="112.9,448.4 119.6,450.0 124.8,446.4 118.1,444.7" fill="#030920" stroke-width="3.3"/><polygon points="133.8,453.5 140.5,455.2 140.3,447.9 133.5,446.2" fill="#03091e" stroke-width="2.3"/><polygon points="140.5,455.2 145.7,451.5 145.5,444.2 140.3,447.9" fill="#091c60" stroke-width="2.3"/><polygon points="133.5,446.2 140.3,447.9 145.5,444.2 138.8,442.6" fill="#030920" stroke-width="2.9"/><polygon points="133.8,453.5 140.5,455.2 145.7,451.5 145.5,444.2 138.8,442.6 133.5,446.2" fill="none" stroke-width="2.9"/><polygon points="154.8,458.7 161.5,460.4 160.0,411.2 153.2,409.6" fill="#03091e" stroke-width="2.3"/><polygon points="161.5,460.4 166.7,456.7 165.2,407.6 160.0,411.2" fill="#091c60" stroke-width="2.3"/><polygon points="153.2,409.6 160.0,411.2 165.2,407.6 158.4,405.9" fill="#030920" stroke-width="2.9"/><polygon points="154.8,458.7 161.5,460.4 166.7,456.7 165.2,407.6 158.4,405.9 153.2,409.6" fill="none" stroke-width="2.9"/><polygon points="175.9,463.9 182.7,465.6 175.9,228.5 168.9,226.9" fill="#03091e" stroke-width="2.3"/><polygon points="182.7,465.6 187.8,461.9 181.3,225.0 175.9,228.5" fill="#091c60" stroke-width="2.3"/><polygon points="168.9,226.9 175.9,228.5 181.3,225.0 174.3,223.4" fill="#030920" stroke-width="2.9"/><polygon points="175.9,463.9 182.7,465.6 187.8,461.9 181.3,225.0 174.3,223.4 168.9,226.9" fill="none" stroke-width="2.9"/><polygon points="197.1,469.1 203.9,470.8 198.7,257.7 191.6,256.1" fill="#03091e" stroke-width="2.3"/><polygon points="203.9,470.8 209.0,467.1 204.0,254.2 198.7,257.7" fill="#091c60" stroke-width="2.3"/><polygon points="191.6,256.1 198.7,257.7 204.0,254.2 197.0,252.6" fill="#030920" stroke-width="2.9"/><polygon points="197.1,469.1 203.9,470.8 209.0,467.1 204.0,254.2 197.0,252.6 191.6,256.1" fill="none" stroke-width="2.9"/><polygon points="218.3,474.4 225.2,476.1 220.9,265.3 213.8,263.7" fill="#03091e" stroke-width="2.3"/><polygon points="225.2,476.1 230.3,472.3 226.2,261.8 220.9,265.3" fill="#091c60" stroke-width="2.3"/><polygon points="213.8,263.7 220.9,265.3 226.2,261.8 219.1,260.2" fill="#030920" stroke-width="2.9"/><polygon points="218.3,474.4 225.2,476.1 230.3,472.3 226.2,261.8 219.1,260.2 213.8,263.7" fill="none" stroke-width="2.9"/><polygon points="239.7,479.7 246.6,481.4 245.7,429.5 238.8,427.8" fill="#03091e" stroke-width="2.3"/><polygon points="246.6,481.4 251.7,477.6 250.9,425.7 245.7,429.5" fill="#091c60" stroke-width="2.3"/><polygon points="238.8,427.8 245.7,429.5 250.9,425.7 243.9,424.1" fill="#030920" stroke-width="2.9"/><polygon points="239.7,479.7 246.6,481.4 251.7,477.6 250.9,425.7 243.9,424.1 238.8,427.8" fill="none" stroke-width="2.9"/><polygon points="261.2,485.0 268.1,486.7 268.0,480.5 261.1,478.8" fill="#03091e" stroke-width="2.3"/><polygon points="268.1,486.7 273.1,482.9 273.1,476.8 268.0,480.5" fill="#091c60" stroke-width="2.3"/><polygon points="261.1,478.8 268.0,480.5 273.1,476.8 266.2,475.1" fill="#030920" stroke-width="2.9"/><polygon points="261.2,485.0 268.1,486.7 273.1,482.9 273.1,476.8 266.2,475.1 261.1,478.8" fill="none" stroke-width="2.9"/><polygon points="282.7,490.3 289.6,492.0 294.7,488.2 287.8,486.5" fill="#030920" stroke-width="3.3"/><polygon points="304.4,495.6 311.3,497.4 316.3,493.5 309.4,491.8" fill="#030920" stroke-width="3.3"/><polygon points="100.0,457.4 106.7,459.0 112.0,455.3 105.3,453.7" fill="#030920" stroke-width="3.3"/><polygon points="121.0,462.6 127.7,464.2 127.5,459.3 120.8,457.7" fill="#03091e" stroke-width="2.3"/><polygon points="127.7,464.2 133.0,460.5 132.8,455.6 127.5,459.3" fill="#091c60" stroke-width="2.3"/><polygon points="120.8,457.7 127.5,459.3 132.8,455.6 126.1,454.0" fill="#030920" stroke-width="2.9"/><polygon points="121.0,462.6 127.7,464.2 133.0,460.5 132.8,455.6 126.1,454.0 120.8,457.7" fill="none" stroke-width="2.9"/><polygon points="142.0,467.8 148.8,469.5 147.8,440.0 141.0,438.3" fill="#03091e" stroke-width="2.3"/><polygon points="148.8,469.5 154.0,465.7 153.0,436.3 147.8,440.0" fill="#091c60" stroke-width="2.3"/><polygon points="141.0,438.3 147.8,440.0 153.0,436.3 146.2,434.6" fill="#030920" stroke-width="2.9"/><polygon points="142.0,467.8 148.8,469.5 154.0,465.7 153.0,436.3 146.2,434.6 141.0,438.3" fill="none" stroke-width="2.9"/><polygon points="163.2,473.0 170.0,474.7 164.7,305.8 157.7,304.2" fill="#03091e" stroke-width="2.3"/><polygon points="170.0,474.7 175.2,471.0 170.1,302.2 164.7,305.8" fill="#091c60" stroke-width="2.3"/><polygon points="157.7,304.2 164.7,305.8 170.1,302.2 163.1,300.6" fill="#030920" stroke-width="2.9"/><polygon points="163.2,473.0 170.0,474.7 175.2,471.0 170.1,302.2 163.1,300.6 157.7,304.2" fill="none" stroke-width="2.9"/><polygon points="184.4,478.3 191.2,480.0 186.4,302.3 179.4,300.7" fill="#03091e" stroke-width="2.3"/><polygon points="191.2,480.0 196.4,476.2 191.8,298.8 186.4,302.3" fill="#091c60" stroke-width="2.3"/><polygon points="179.4,300.7 186.4,302.3 191.8,298.8 184.8,297.1" fill="#030920" stroke-width="2.9"/><polygon points="184.4,478.3 191.2,480.0 196.4,476.2 191.8,298.8 184.8,297.1 179.4,300.7" fill="none" stroke-width="2.9"/><polygon points="205.7,483.6 212.6,485.3 207.9,281.0 200.8,279.4" fill="#03091e" stroke-width="2.3"/><polygon points="212.6,485.3 217.7,481.5 213.3,277.5 207.9,281.0" fill="#091c60" stroke-width="2.3"/><polygon points="200.8,279.4 207.9,281.0 213.3,277.5 206.2,275.8" fill="#030920" stroke-width="2.9"/><polygon points="205.7,483.6 212.6,485.3 217.7,481.5 213.3,277.5 206.2,275.8 200.8,279.4" fill="none" stroke-width="2.9"/><polygon points="227.1,488.9 234.0,490.6 232.8,426.1 225.8,424.4" fill="#03091e" stroke-width="2.3"/><polygon points="234.0,490.6 239.2,486.8 238.0,422.3 232.8,426.1" fill="#091c60" stroke-width="2.3"/><polygon points="225.8,424.4 232.8,426.1 238.0,422.3 231.1,420.7" fill="#030920" stroke-width="2.9"/><polygon points="227.1,488.9 234.0,490.6 239.2,486.8 238.0,422.3 231.1,420.7 225.8,424.4" fill="none" stroke-width="2.9"/><polygon points="248.7,494.2 255.6,496.0 255.5,492.0 248.6,490.3" fill="#03091e" stroke-width="2.3"/><polygon points="255.6,496.0 260.7,492.2 260.6,488.2 255.5,492.0" fill="#091c60" stroke-width="2.3"/><polygon points="248.6,490.3 255.5,492.0 260.6,488.2 253.7,486.5" fill="#030920" stroke-width="2.9"/><polygon points="248.7,494.2 255.6,496.0 260.7,492.2 260.6,488.2 253.7,486.5 248.6,490.3" fill="none" stroke-width="2.9"/><polygon points="270.3,499.6 277.2,501.3 282.3,497.5 275.4,495.8" fill="#030920" stroke-width="3.3"/><polygon points="292.0,505.0 298.9,506.7 304.0,502.9 297.0,501.2" fill="#030920" stroke-width="3.3"/><polygon points="87.1,466.4 93.8,468.1 99.1,464.4 92.4,462.7" fill="#030920" stroke-width="3.3"/><polygon points="108.1,471.7 114.8,473.3 120.1,469.6 113.4,467.9" fill="#030920" stroke-width="3.3"/><polygon points="129.2,476.9 135.9,478.6 135.8,474.9 129.0,473.2" fill="#03091e" stroke-width="2.3"/><polygon points="135.9,478.6 141.2,474.9 141.1,471.2 135.8,474.9" fill="#091c60" stroke-width="2.3"/><polygon points="129.0,473.2 135.8,474.9 141.1,471.2 134.3,469.5" fill="#030920" stroke-width="2.9"/><polygon points="129.2,476.9 135.9,478.6 141.2,474.9 141.1,471.2 134.3,469.5 129.0,473.2" fill="none" stroke-width="2.9"/><polygon points="150.4,482.2 157.2,483.9 156.3,459.3 149.5,457.6" fill="#03091e" stroke-width="2.3"/><polygon points="157.2,483.9 162.4,480.1 161.6,455.6 156.3,459.3" fill="#091c60" stroke-width="2.3"/><polygon points="149.5,457.6 156.3,459.3 161.6,455.6 154.8,453.9" fill="#030920" stroke-width="2.9"/><polygon points="150.4,482.2 157.2,483.9 162.4,480.1 161.6,455.6 154.8,453.9 149.5,457.6" fill="none" stroke-width="2.9"/><polygon points="171.6,487.5 178.5,489.2 177.9,469.5 171.0,467.8" fill="#03091e" stroke-width="2.3"/><polygon points="178.5,489.2 183.7,485.4 183.1,465.8 177.9,469.5" fill="#091c60" stroke-width="2.3"/><polygon points="171.0,467.8 177.9,469.5 183.1,465.8 176.3,464.1" fill="#030920" stroke-width="2.9"/><polygon points="171.6,487.5 178.5,489.2 183.7,485.4 183.1,465.8 176.3,464.1 171.0,467.8" fill="none" stroke-width="2.9"/><polygon points="193.0,492.8 199.9,494.6 199.4,476.1 192.5,474.4" fill="#03091e" stroke-width="2.3"/><polygon points="199.9,494.6 205.1,490.8 204.6,472.3 199.4,476.1" fill="#091c60" stroke-width="2.3"/><polygon points="192.5,474.4 199.4,476.1 204.6,472.3 197.7,470.6" fill="#030920" stroke-width="2.9"/><polygon points="193.0,492.8 199.9,494.6 205.1,490.8 204.6,472.3 197.7,470.6 192.5,474.4" fill="none" stroke-width="2.9"/><polygon points="214.5,498.2 221.4,499.9 221.0,481.9 214.1,480.2" fill="#03091e" stroke-width="2.3"/><polygon points="221.4,499.9 226.6,496.1 226.2,478.1 221.0,481.9" fill="#091c60" stroke-width="2.3"/><polygon points="214.1,480.2 221.0,481.9 226.2,478.1 219.3,476.4" fill="#030920" stroke-width="2.9"/><polygon points="214.5,498.2 221.4,499.9 226.6,496.1 226.2,478.1 219.3,476.4 214.1,480.2" fill="none" stroke-width="2.9"/><polygon points="236.1,503.6 243.0,505.3 248.1,501.5 241.2,499.8" fill="#030920" stroke-width="3.3"/><polygon points="257.7,509.0 264.7,510.7 269.8,506.9 262.9,505.1" fill="#030920" stroke-width="3.3"/><polygon points="279.5,514.4 286.5,516.2 291.6,512.3 284.6,510.6" fill="#030920" stroke-width="3.3"/><polygon points="74.0,475.5 80.7,477.2 86.1,473.5 79.3,471.8" fill="#030920" stroke-width="3.3"/><polygon points="95.0,480.8 101.8,482.5 107.1,478.8 100.4,477.1" fill="#030920" stroke-width="3.3"/><polygon points="116.2,486.1 123.0,487.8 128.3,484.1 121.5,482.4" fill="#030920" stroke-width="3.3"/><polygon points="137.4,491.5 144.3,493.2 149.5,489.4 142.7,487.7" fill="#030920" stroke-width="3.3"/><polygon points="158.8,496.8 165.6,498.5 165.5,494.8 158.6,493.1" fill="#03091e" stroke-width="2.3"/><polygon points="165.6,498.5 170.9,494.7 170.8,491.0 165.5,494.8" fill="#091c60" stroke-width="2.3"/><polygon points="158.6,493.1 165.5,494.8 170.8,491.0 163.9,489.3" fill="#030920" stroke-width="2.9"/><polygon points="158.8,496.8 165.6,498.5 170.9,494.7 170.8,491.0 163.9,489.3 158.6,493.1" fill="none" stroke-width="2.9"/><polygon points="180.2,502.2 187.1,503.9 186.8,494.5 179.9,492.8" fill="#03091e" stroke-width="2.3"/><polygon points="187.1,503.9 192.3,500.1 192.1,490.7 186.8,494.5" fill="#091c60" stroke-width="2.3"/><polygon points="179.9,492.8 186.8,494.5 192.1,490.7 185.2,489.0" fill="#030920" stroke-width="2.9"/><polygon points="180.2,502.2 187.1,503.9 192.3,500.1 192.1,490.7 185.2,489.0 179.9,492.8" fill="none" stroke-width="2.9"/><polygon points="201.7,507.6 208.6,509.3 213.9,505.5 207.0,503.7" fill="#030920" stroke-width="3.3"/><polygon points="223.4,513.0 230.3,514.7 235.5,510.9 228.6,509.1" fill="#030920" stroke-width="3.3"/><polygon points="245.1,518.4 252.0,520.2 257.2,516.3 250.3,514.6" fill="#030920" stroke-width="3.3"/><polygon points="266.9,523.9 273.9,525.7 279.0,521.8 272.0,520.0" fill="#030920" stroke-width="3.3"/><polygon points="60.8,484.7 67.6,486.4 72.9,482.7 66.2,481.0" fill="#030920" stroke-width="3.3"/><polygon points="81.9,490.1 88.7,491.8 94.1,488.0 87.3,486.3" fill="#030920" stroke-width="3.3"/><polygon points="103.1,495.4 109.9,497.1 115.3,493.3 108.5,491.6" fill="#030920" stroke-width="3.3"/><polygon points="124.4,500.8 131.3,502.5 136.6,498.7 129.7,497.0" fill="#030920" stroke-width="3.3"/><polygon points="145.8,506.2 152.7,507.9 158.0,504.1 151.1,502.3" fill="#030920" stroke-width="3.3"/><polygon points="167.3,511.6 174.2,513.3 179.5,509.5 172.6,507.7" fill="#030920" stroke-width="3.3"/><polygon points="188.9,517.0 195.8,518.8 201.1,514.9 194.1,513.2" fill="#030920" stroke-width="3.3"/><polygon points="210.6,522.5 217.5,524.2 222.7,520.4 215.8,518.6" fill="#030920" stroke-width="3.3"/><polygon points="232.3,528.0 239.3,529.7 244.5,525.8 237.6,524.1" fill="#030920" stroke-width="3.3"/><polygon points="254.2,533.5 261.2,535.3 266.4,531.3 259.4,529.6" fill="#030920" stroke-width="3.3"/></g><g stroke="#000" stroke-linejoin="round"><polygon points="329.4,481.4 336.4,483.1 341.3,479.3 334.4,477.6" fill="#790018" stroke-width="3.3"/><polygon points="347.1,485.7 354.0,487.4 354.1,475.1 347.1,473.4" fill="#6e0016" stroke-width="2.3"/><polygon points="354.0,487.4 359.0,483.6 359.0,471.4 354.1,475.1" fill="#cc0028" stroke-width="2.3"/><polygon points="347.1,473.4 354.1,475.1 359.0,471.4 352.1,469.7" fill="#790018" stroke-width="2.9"/><polygon points="347.1,485.7 354.0,487.4 359.0,483.6 359.0,471.4 352.1,469.7 347.1,473.4" fill="none" stroke-width="2.9"/><polygon points="364.8,490.0 371.7,491.8 372.0,454.7 365.0,453.0" fill="#6e0016" stroke-width="2.3"/><polygon points="371.7,491.8 376.7,488.0 377.0,450.9 372.0,454.7" fill="#cc0028" stroke-width="2.3"/><polygon points="365.0,453.0 372.0,454.7 377.0,450.9 369.9,449.3" fill="#790018" stroke-width="2.9"/><polygon points="364.8,490.0 371.7,491.8 376.7,488.0 377.0,450.9 369.9,449.3 365.0,453.0" fill="none" stroke-width="2.9"/><polygon points="382.5,494.4 389.5,496.1 389.8,466.5 382.8,464.8" fill="#6e0016" stroke-width="2.3"/><polygon points="389.5,496.1 394.4,492.3 394.8,462.7 389.8,466.5" fill="#cc0028" stroke-width="2.3"/><polygon points="382.8,464.8 389.8,466.5 394.8,462.7 387.7,461.0" fill="#790018" stroke-width="2.9"/><polygon points="382.5,494.4 389.5,496.1 394.4,492.3 394.8,462.7 387.7,461.0 382.8,464.8" fill="none" stroke-width="2.9"/><polygon points="400.4,498.8 407.4,500.5 407.5,493.1 400.4,491.4" fill="#6e0016" stroke-width="2.3"/><polygon points="407.4,500.5 412.3,496.7 412.4,489.3 407.5,493.1" fill="#cc0028" stroke-width="2.3"/><polygon points="400.4,491.4 407.5,493.1 412.4,489.3 405.3,487.6" fill="#790018" stroke-width="2.9"/><polygon points="400.4,498.8 407.4,500.5 412.3,496.7 412.4,489.3 405.3,487.6 400.4,491.4" fill="none" stroke-width="2.9"/><polygon points="418.2,503.1 425.3,504.9 430.2,501.0 423.1,499.3" fill="#790018" stroke-width="3.3"/><polygon points="436.2,507.5 443.3,509.3 448.1,505.4 441.1,503.7" fill="#790018" stroke-width="3.3"/><polygon points="454.2,511.9 461.3,513.7 466.1,509.8 459.1,508.1" fill="#790018" stroke-width="3.3"/><polygon points="472.3,516.4 479.4,518.1 484.2,514.3 477.1,512.5" fill="#790018" stroke-width="3.3"/><polygon points="490.5,520.8 497.6,522.6 502.4,518.7 495.3,516.9" fill="#790018" stroke-width="3.3"/><polygon points="320.6,488.0 327.6,489.8 327.6,482.4 320.6,480.7" fill="#6e0016" stroke-width="2.3"/><polygon points="327.6,489.8 332.6,486.0 332.6,478.6 327.6,482.4" fill="#cc0028" stroke-width="2.3"/><polygon points="320.6,480.7 327.6,482.4 332.6,478.6 325.6,476.9" fill="#790018" stroke-width="2.9"/><polygon points="320.6,488.0 327.6,489.8 332.6,486.0 332.6,478.6 325.6,476.9 320.6,480.7" fill="none" stroke-width="2.9"/><polygon points="338.3,492.4 345.3,494.1 345.4,444.5 338.4,442.8" fill="#6e0016" stroke-width="2.3"/><polygon points="345.3,494.1 350.2,490.3 350.4,440.8 345.4,444.5" fill="#cc0028" stroke-width="2.3"/><polygon points="338.4,442.8 345.4,444.5 350.4,440.8 343.4,439.1" fill="#790018" stroke-width="2.9"/><polygon points="338.3,492.4 345.3,494.1 350.2,490.3 350.4,440.8 343.4,439.1 338.4,442.8" fill="none" stroke-width="2.9"/><polygon points="356.0,496.7 363.0,498.5 363.7,372.7 356.6,371.0" fill="#6e0016" stroke-width="2.3"/><polygon points="363.0,498.5 368.0,494.7 368.8,369.0 363.7,372.7" fill="#cc0028" stroke-width="2.3"/><polygon points="356.6,371.0 363.7,372.7 368.8,369.0 361.6,367.3" fill="#790018" stroke-width="2.9"/><polygon points="356.0,496.7 363.0,498.5 368.0,494.7 368.8,369.0 361.6,367.3 356.6,371.0" fill="none" stroke-width="2.9"/><polygon points="373.8,501.1 380.9,502.8 381.7,402.6 374.6,400.9" fill="#6e0016" stroke-width="2.3"/><polygon points="380.9,502.8 385.8,499.0 386.8,398.9 381.7,402.6" fill="#cc0028" stroke-width="2.3"/><polygon points="374.6,400.9 381.7,402.6 386.8,398.9 379.6,397.2" fill="#790018" stroke-width="2.9"/><polygon points="373.8,501.1 380.9,502.8 385.8,499.0 386.8,398.9 379.6,397.2 374.6,400.9" fill="none" stroke-width="2.9"/><polygon points="391.7,505.5 398.7,507.2 399.1,477.5 392.0,475.8" fill="#6e0016" stroke-width="2.3"/><polygon points="398.7,507.2 403.6,503.4 404.0,473.7 399.1,477.5" fill="#cc0028" stroke-width="2.3"/><polygon points="392.0,475.8 399.1,477.5 404.0,473.7 397.0,472.0" fill="#790018" stroke-width="2.9"/><polygon points="391.7,505.5 398.7,507.2 403.6,503.4 404.0,473.7 397.0,472.0 392.0,475.8" fill="none" stroke-width="2.9"/><polygon points="409.6,509.9 416.7,511.6 416.8,506.7 409.7,505.0" fill="#6e0016" stroke-width="2.3"/><polygon points="416.7,511.6 421.6,507.8 421.7,502.9 416.8,506.7" fill="#cc0028" stroke-width="2.3"/><polygon points="409.7,505.0 416.8,506.7 421.7,502.9 414.6,501.1" fill="#790018" stroke-width="2.9"/><polygon points="409.6,509.9 416.7,511.6 421.6,507.8 421.7,502.9 414.6,501.1 409.7,505.0" fill="none" stroke-width="2.9"/><polygon points="427.6,514.3 434.7,516.1 439.6,512.2 432.5,510.5" fill="#790018" stroke-width="3.3"/><polygon points="445.7,518.8 452.8,520.5 457.6,516.6 450.5,514.9" fill="#790018" stroke-width="3.3"/><polygon points="463.8,523.2 470.9,525.0 475.8,521.1 468.6,519.3" fill="#790018" stroke-width="3.3"/><polygon points="482.0,527.7 489.1,529.5 494.0,525.5 486.8,523.8" fill="#790018" stroke-width="3.3"/><polygon points="311.8,494.7 318.8,496.4 318.7,489.1 311.8,487.4" fill="#6e0016" stroke-width="2.3"/><polygon points="318.8,496.4 323.8,492.6 323.8,485.3 318.7,489.1" fill="#cc0028" stroke-width="2.3"/><polygon points="311.8,487.4 318.7,489.1 323.8,485.3 316.8,483.6" fill="#790018" stroke-width="2.9"/><polygon points="311.8,494.7 318.8,496.4 323.8,492.6 323.8,485.3 316.8,483.6 311.8,487.4" fill="none" stroke-width="2.9"/><polygon points="329.5,499.1 336.5,500.8 336.5,400.6 329.4,398.9" fill="#6e0016" stroke-width="2.3"/><polygon points="336.5,500.8 341.5,497.0 341.6,396.9 336.5,400.6" fill="#cc0028" stroke-width="2.3"/><polygon points="329.4,398.9 336.5,400.6 341.6,396.9 334.5,395.2" fill="#790018" stroke-width="2.9"/><polygon points="329.5,499.1 336.5,500.8 341.5,497.0 341.6,396.9 334.5,395.2 329.4,398.9" fill="none" stroke-width="2.9"/><polygon points="347.3,503.5 354.3,505.2 355.4,215.0 348.0,213.4" fill="#6e0016" stroke-width="2.3"/><polygon points="354.3,505.2 359.2,501.4 360.7,211.5 355.4,215.0" fill="#cc0028" stroke-width="2.3"/><polygon points="348.0,213.4 355.4,215.0 360.7,211.5 353.3,209.9" fill="#790018" stroke-width="2.9"/><polygon points="347.3,503.5 354.3,505.2 359.2,501.4 360.7,211.5 353.3,209.9 348.0,213.4" fill="none" stroke-width="2.9"/><polygon points="365.1,507.9 372.1,509.6 373.9,268.4 366.5,266.8" fill="#6e0016" stroke-width="2.3"/><polygon points="372.1,509.6 377.1,505.8 379.1,264.8 373.9,268.4" fill="#cc0028" stroke-width="2.3"/><polygon points="366.5,266.8 373.9,268.4 379.1,264.8 371.7,263.2" fill="#790018" stroke-width="2.9"/><polygon points="365.1,507.9 372.1,509.6 377.1,505.8 379.1,264.8 371.7,263.2 366.5,266.8" fill="none" stroke-width="2.9"/><polygon points="383.0,512.3 390.0,514.0 391.0,426.3 383.8,424.6" fill="#6e0016" stroke-width="2.3"/><polygon points="390.0,514.0 395.0,510.2 396.0,422.5 391.0,426.3" fill="#cc0028" stroke-width="2.3"/><polygon points="383.8,424.6 391.0,426.3 396.0,422.5 388.8,420.8" fill="#790018" stroke-width="2.9"/><polygon points="383.0,512.3 390.0,514.0 395.0,510.2 396.0,422.5 388.8,420.8 383.8,424.6" fill="none" stroke-width="2.9"/><polygon points="401.0,516.7 408.0,518.5 408.4,493.7 401.3,491.9" fill="#6e0016" stroke-width="2.3"/><polygon points="408.0,518.5 412.9,514.6 413.3,489.8 408.4,493.7" fill="#cc0028" stroke-width="2.3"/><polygon points="401.3,491.9 408.4,493.7 413.3,489.8 406.2,488.1" fill="#790018" stroke-width="2.9"/><polygon points="401.0,516.7 408.0,518.5 412.9,514.6 413.3,489.8 406.2,488.1 401.3,491.9" fill="none" stroke-width="2.9"/><polygon points="419.0,521.2 426.1,522.9 431.0,519.0 423.9,517.3" fill="#790018" stroke-width="3.3"/><polygon points="437.1,525.6 444.2,527.4 449.1,523.5 442.0,521.7" fill="#790018" stroke-width="3.3"/><polygon points="455.2,530.1 462.4,531.9 467.2,528.0 460.1,526.2" fill="#790018" stroke-width="3.3"/><polygon points="473.4,534.6 480.6,536.4 485.5,532.4 478.3,530.7" fill="#790018" stroke-width="3.3"/><polygon points="302.9,501.4 309.9,503.2 314.9,499.3 308.0,497.6" fill="#790018" stroke-width="3.3"/><polygon points="320.6,505.8 327.6,507.6 327.6,470.4 320.6,468.7" fill="#6e0016" stroke-width="2.3"/><polygon points="327.6,507.6 332.7,503.7 332.7,466.6 327.6,470.4" fill="#cc0028" stroke-width="2.3"/><polygon points="320.6,468.7 327.6,470.4 332.7,466.6 325.6,464.9" fill="#790018" stroke-width="2.9"/><polygon points="320.6,505.8 327.6,507.6 332.7,503.7 332.7,466.6 325.6,464.9 320.6,468.7" fill="none" stroke-width="2.9"/><polygon points="338.4,510.2 345.5,512.0 345.7,391.0 338.6,389.3" fill="#6e0016" stroke-width="2.3"/><polygon points="345.5,512.0 350.5,508.1 350.9,387.2 345.7,391.0" fill="#cc0028" stroke-width="2.3"/><polygon points="338.6,389.3 345.7,391.0 350.9,387.2 343.7,385.5" fill="#790018" stroke-width="2.9"/><polygon points="338.4,510.2 345.5,512.0 350.5,508.1 350.9,387.2 343.7,385.5 338.6,389.3" fill="none" stroke-width="2.9"/><polygon points="356.3,514.7 363.4,516.4 364.4,323.4 357.1,321.7" fill="#6e0016" stroke-width="2.3"/><polygon points="363.4,516.4 368.3,512.5 369.6,319.7 364.4,323.4" fill="#cc0028" stroke-width="2.3"/><polygon points="357.1,321.7 364.4,323.4 369.6,319.7 362.3,318.0" fill="#790018" stroke-width="2.9"/><polygon points="356.3,514.7 363.4,516.4 368.3,512.5 369.6,319.7 362.3,318.0 357.1,321.7" fill="none" stroke-width="2.9"/><polygon points="374.2,519.1 381.3,520.9 382.3,407.3 375.1,405.6" fill="#6e0016" stroke-width="2.3"/><polygon points="381.3,520.9 386.3,517.0 387.4,403.5 382.3,407.3" fill="#cc0028" stroke-width="2.3"/><polygon points="375.1,405.6 382.3,407.3 387.4,403.5 380.2,401.9" fill="#790018" stroke-width="2.9"/><polygon points="374.2,519.1 381.3,520.9 386.3,517.0 387.4,403.5 380.2,401.9 375.1,405.6" fill="none" stroke-width="2.9"/><polygon points="392.2,523.6 399.3,525.3 399.9,477.9 392.8,476.2" fill="#6e0016" stroke-width="2.3"/><polygon points="399.3,525.3 404.3,521.4 404.9,474.1 399.9,477.9" fill="#cc0028" stroke-width="2.3"/><polygon points="392.8,476.2 399.9,477.9 404.9,474.1 397.8,472.3" fill="#790018" stroke-width="2.9"/><polygon points="392.2,523.6 399.3,525.3 404.3,521.4 404.9,474.1 397.8,472.3 392.8,476.2" fill="none" stroke-width="2.9"/><polygon points="410.3,528.0 417.4,529.8 417.6,517.4 410.5,515.6" fill="#6e0016" stroke-width="2.3"/><polygon points="417.4,529.8 422.3,525.9 422.5,513.5 417.6,517.4" fill="#cc0028" stroke-width="2.3"/><polygon points="410.5,515.6 417.6,517.4 422.5,513.5 415.4,511.7" fill="#790018" stroke-width="2.9"/><polygon points="410.3,528.0 417.4,529.8 422.3,525.9 422.5,513.5 415.4,511.7 410.5,515.6" fill="none" stroke-width="2.9"/><polygon points="428.4,532.5 435.6,534.3 440.5,530.4 433.3,528.6" fill="#790018" stroke-width="3.3"/><polygon points="446.6,537.0 453.8,538.8 458.7,534.9 451.5,533.1" fill="#790018" stroke-width="3.3"/><polygon points="464.9,541.5 472.1,543.3 476.9,539.4 469.7,537.6" fill="#790018" stroke-width="3.3"/><polygon points="294.0,508.2 301.0,509.9 306.0,506.1 299.1,504.4" fill="#790018" stroke-width="3.3"/><polygon points="311.7,512.6 318.7,514.4 318.6,476.0 311.6,474.2" fill="#6e0016" stroke-width="2.3"/><polygon points="318.7,514.4 323.8,510.5 323.7,472.1 318.6,476.0" fill="#cc0028" stroke-width="2.3"/><polygon points="311.6,474.2 318.6,476.0 323.7,472.1 316.7,470.4" fill="#790018" stroke-width="2.9"/><polygon points="311.7,512.6 318.7,514.4 323.8,510.5 323.7,472.1 316.7,470.4 311.6,474.2" fill="none" stroke-width="2.9"/><polygon points="329.6,517.1 336.6,518.8 336.7,351.6 329.4,349.9" fill="#6e0016" stroke-width="2.3"/><polygon points="336.6,518.8 341.6,514.9 341.9,347.9 336.7,351.6" fill="#cc0028" stroke-width="2.3"/><polygon points="329.4,349.9 336.7,351.6 341.9,347.9 334.6,346.2" fill="#790018" stroke-width="2.9"/><polygon points="329.6,517.1 336.6,518.8 341.6,514.9 341.9,347.9 334.6,346.2 329.4,349.9" fill="none" stroke-width="2.9"/><polygon points="347.5,521.5 354.5,523.3 354.9,422.5 347.7,420.8" fill="#6e0016" stroke-width="2.3"/><polygon points="354.5,523.3 359.5,519.4 360.0,418.7 354.9,422.5" fill="#cc0028" stroke-width="2.3"/><polygon points="347.7,420.8 354.9,422.5 360.0,418.7 352.9,417.0" fill="#790018" stroke-width="2.9"/><polygon points="347.5,521.5 354.5,523.3 359.5,519.4 360.0,418.7 352.9,417.0 347.7,420.8" fill="none" stroke-width="2.9"/><polygon points="365.4,526.0 372.5,527.7 373.3,426.9 366.0,425.2" fill="#6e0016" stroke-width="2.3"/><polygon points="372.5,527.7 377.5,523.8 378.4,423.1 373.3,426.9" fill="#cc0028" stroke-width="2.3"/><polygon points="366.0,425.2 373.3,426.9 378.4,423.1 371.1,421.4" fill="#790018" stroke-width="2.9"/><polygon points="365.4,526.0 372.5,527.7 377.5,523.8 378.4,423.1 371.1,421.4 366.0,425.2" fill="none" stroke-width="2.9"/><polygon points="383.5,530.4 390.6,532.2 391.8,415.8 384.6,414.0" fill="#6e0016" stroke-width="2.3"/><polygon points="390.6,532.2 395.5,528.3 396.9,411.9 391.8,415.8" fill="#cc0028" stroke-width="2.3"/><polygon points="384.6,414.0 391.8,415.8 396.9,411.9 389.7,410.2" fill="#790018" stroke-width="2.9"/><polygon points="383.5,530.4 390.6,532.2 395.5,528.3 396.9,411.9 389.7,410.2 384.6,414.0" fill="none" stroke-width="2.9"/><polygon points="401.6,534.9 408.7,536.7 409.3,493.0 402.1,491.2" fill="#6e0016" stroke-width="2.3"/><polygon points="408.7,536.7 413.6,532.8 414.3,489.1 409.3,493.0" fill="#cc0028" stroke-width="2.3"/><polygon points="402.1,491.2 409.3,493.0 414.3,489.1 407.1,487.3" fill="#790018" stroke-width="2.9"/><polygon points="401.6,534.9 408.7,536.7 413.6,532.8 414.3,489.1 407.1,487.3 402.1,491.2" fill="none" stroke-width="2.9"/><polygon points="419.7,539.5 426.9,541.2 426.9,537.5 419.8,535.7" fill="#6e0016" stroke-width="2.3"/><polygon points="426.9,541.2 431.8,537.3 431.9,533.6 426.9,537.5" fill="#cc0028" stroke-width="2.3"/><polygon points="419.8,535.7 426.9,537.5 431.9,533.6 424.7,531.8" fill="#790018" stroke-width="2.9"/><polygon points="419.7,539.5 426.9,541.2 431.8,537.3 431.9,533.6 424.7,531.8 419.8,535.7" fill="none" stroke-width="2.9"/><polygon points="437.9,544.0 445.1,545.8 450.1,541.8 442.9,540.0" fill="#790018" stroke-width="3.3"/><polygon points="456.2,548.5 463.5,550.3 468.4,546.3 461.1,544.6" fill="#790018" stroke-width="3.3"/><polygon points="285.0,515.0 292.0,516.7 297.1,512.9 290.1,511.1" fill="#790018" stroke-width="3.3"/><polygon points="302.8,519.4 309.8,521.2 309.8,515.0 302.8,513.3" fill="#6e0016" stroke-width="2.3"/><polygon points="309.8,521.2 314.9,517.3 314.9,511.1 309.8,515.0" fill="#cc0028" stroke-width="2.3"/><polygon points="302.8,513.3 309.8,515.0 314.9,511.1 307.8,509.4" fill="#790018" stroke-width="2.9"/><polygon points="302.8,519.4 309.8,521.2 314.9,517.3 314.9,511.1 307.8,509.4 302.8,513.3" fill="none" stroke-width="2.9"/><polygon points="320.7,523.9 327.7,525.7 327.6,462.3 320.5,460.6" fill="#6e0016" stroke-width="2.3"/><polygon points="327.7,525.7 332.8,521.8 332.7,458.4 327.6,462.3" fill="#cc0028" stroke-width="2.3"/><polygon points="320.5,460.6 327.6,462.3 332.7,458.4 325.6,456.7" fill="#790018" stroke-width="2.9"/><polygon points="320.7,523.9 327.7,525.7 332.8,521.8 332.7,458.4 325.6,456.7 320.5,460.6" fill="none" stroke-width="2.9"/><polygon points="338.6,528.4 345.7,530.1 346.0,383.5 338.7,381.8" fill="#6e0016" stroke-width="2.3"/><polygon points="345.7,530.1 350.7,526.2 351.2,379.7 346.0,383.5" fill="#cc0028" stroke-width="2.3"/><polygon points="338.7,381.8 346.0,383.5 351.2,379.7 343.9,378.0" fill="#790018" stroke-width="2.9"/><polygon points="338.6,528.4 345.7,530.1 350.7,526.2 351.2,379.7 343.9,378.0 338.7,381.8" fill="none" stroke-width="2.9"/><polygon points="356.6,532.9 363.7,534.6 364.5,383.5 357.2,381.8" fill="#6e0016" stroke-width="2.3"/><polygon points="363.7,534.6 368.7,530.7 369.7,379.8 364.5,383.5" fill="#cc0028" stroke-width="2.3"/><polygon points="357.2,381.8 364.5,383.5 369.7,379.8 362.4,378.1" fill="#790018" stroke-width="2.9"/><polygon points="356.6,532.9 363.7,534.6 368.7,530.7 369.7,379.8 362.4,378.1 357.2,381.8" fill="none" stroke-width="2.9"/><polygon points="374.6,537.4 381.8,539.1 383.2,387.1 375.8,385.3" fill="#6e0016" stroke-width="2.3"/><polygon points="381.8,539.1 386.8,535.2 388.3,383.3 383.2,387.1" fill="#cc0028" stroke-width="2.3"/><polygon points="375.8,385.3 383.2,387.1 388.3,383.3 381.0,381.5" fill="#790018" stroke-width="2.9"/><polygon points="374.6,537.4 381.8,539.1 386.8,535.2 388.3,383.3 381.0,381.5 375.8,385.3" fill="none" stroke-width="2.9"/><polygon points="392.8,541.9 399.9,543.7 400.8,475.3 393.5,473.6" fill="#6e0016" stroke-width="2.3"/><polygon points="399.9,543.7 404.9,539.7 405.8,471.4 400.8,475.3" fill="#cc0028" stroke-width="2.3"/><polygon points="393.5,473.6 400.8,475.3 405.8,471.4 398.6,469.7" fill="#790018" stroke-width="2.9"/><polygon points="392.8,541.9 399.9,543.7 404.9,539.7 405.8,471.4 398.6,469.7 393.5,473.6" fill="none" stroke-width="2.9"/><polygon points="411.0,546.4 418.1,548.2 418.3,540.7 411.1,539.0" fill="#6e0016" stroke-width="2.3"/><polygon points="418.1,548.2 423.1,544.2 423.2,536.8 418.3,540.7" fill="#cc0028" stroke-width="2.3"/><polygon points="411.1,539.0 418.3,540.7 423.2,536.8 416.1,535.0" fill="#790018" stroke-width="2.9"/><polygon points="411.0,546.4 418.1,548.2 423.1,544.2 423.2,536.8 416.1,535.0 411.1,539.0" fill="none" stroke-width="2.9"/><polygon points="429.2,551.0 436.4,552.8 441.4,548.8 434.2,547.0" fill="#790018" stroke-width="3.3"/><polygon points="447.6,555.5 454.8,557.4 459.7,553.4 452.5,551.6" fill="#790018" stroke-width="3.3"/><polygon points="275.9,521.8 283.0,523.6 288.1,519.7 281.1,518.0" fill="#790018" stroke-width="3.3"/><polygon points="293.8,526.3 300.8,528.1 305.9,524.2 298.9,522.4" fill="#790018" stroke-width="3.3"/><polygon points="311.7,530.8 318.7,532.6 318.7,526.4 311.7,524.6" fill="#6e0016" stroke-width="2.3"/><polygon points="318.7,532.6 323.8,528.6 323.8,522.4 318.7,526.4" fill="#cc0028" stroke-width="2.3"/><polygon points="311.7,524.6 318.7,526.4 323.8,522.4 316.8,520.7" fill="#790018" stroke-width="2.9"/><polygon points="311.7,530.8 318.7,532.6 323.8,528.6 323.8,522.4 316.8,520.7 311.7,524.6" fill="none" stroke-width="2.9"/><polygon points="329.6,535.3 336.7,537.1 336.7,522.1 329.6,520.4" fill="#6e0016" stroke-width="2.3"/><polygon points="336.7,537.1 341.8,533.1 341.8,518.2 336.7,522.1" fill="#cc0028" stroke-width="2.3"/><polygon points="329.6,520.4 336.7,522.1 341.8,518.2 334.7,516.5" fill="#790018" stroke-width="2.9"/><polygon points="329.6,535.3 336.7,537.1 341.8,533.1 341.8,518.2 334.7,516.5 329.6,520.4" fill="none" stroke-width="2.9"/><polygon points="347.7,539.8 354.8,541.6 354.9,521.7 347.7,519.9" fill="#6e0016" stroke-width="2.3"/><polygon points="354.8,541.6 359.8,537.6 359.9,517.7 354.9,521.7" fill="#cc0028" stroke-width="2.3"/><polygon points="347.7,519.9 354.9,521.7 359.9,517.7 352.8,516.0" fill="#790018" stroke-width="2.9"/><polygon points="347.7,539.8 354.8,541.6 359.8,537.6 359.9,517.7 352.8,516.0 347.7,519.9" fill="none" stroke-width="2.9"/><polygon points="365.8,544.3 372.9,546.1 373.0,528.7 365.9,526.9" fill="#6e0016" stroke-width="2.3"/><polygon points="372.9,546.1 377.9,542.1 378.1,524.7 373.0,528.7" fill="#cc0028" stroke-width="2.3"/><polygon points="365.9,526.9 373.0,528.7 378.1,524.7 370.9,523.0" fill="#790018" stroke-width="2.9"/><polygon points="365.8,544.3 372.9,546.1 377.9,542.1 378.1,524.7 370.9,523.0 365.9,526.9" fill="none" stroke-width="2.9"/><polygon points="383.9,548.9 391.1,550.7 391.2,544.4 384.0,542.7" fill="#6e0016" stroke-width="2.3"/><polygon points="391.1,550.7 396.1,546.7 396.2,540.5 391.2,544.4" fill="#cc0028" stroke-width="2.3"/><polygon points="384.0,542.7 391.2,544.4 396.2,540.5 389.0,538.7" fill="#790018" stroke-width="2.9"/><polygon points="383.9,548.9 391.1,550.7 396.1,546.7 396.2,540.5 389.0,538.7 384.0,542.7" fill="none" stroke-width="2.9"/><polygon points="402.2,553.4 409.4,555.2 414.4,551.2 407.2,549.5" fill="#790018" stroke-width="3.3"/><polygon points="420.5,558.0 427.7,559.8 432.7,555.8 425.5,554.0" fill="#790018" stroke-width="3.3"/><polygon points="438.8,562.6 446.1,564.4 451.0,560.4 443.8,558.6" fill="#790018" stroke-width="3.3"/><polygon points="266.9,528.7 273.9,530.5 279.0,526.6 272.0,524.8" fill="#790018" stroke-width="3.3"/><polygon points="284.7,533.2 291.8,535.0 296.9,531.0 289.9,529.3" fill="#790018" stroke-width="3.3"/><polygon points="302.7,537.7 309.7,539.5 314.9,535.5 307.8,533.8" fill="#790018" stroke-width="3.3"/><polygon points="320.7,542.2 327.8,544.0 327.8,537.8 320.6,536.0" fill="#6e0016" stroke-width="2.3"/><polygon points="327.8,544.0 332.9,540.1 332.9,533.9 327.8,537.8" fill="#cc0028" stroke-width="2.3"/><polygon points="320.6,536.0 327.8,537.8 332.9,533.9 325.8,532.1" fill="#790018" stroke-width="2.9"/><polygon points="320.7,542.2 327.8,544.0 332.9,540.1 332.9,533.9 325.8,532.1 320.6,536.0" fill="none" stroke-width="2.9"/><polygon points="338.7,546.8 345.8,548.6 345.9,541.6 338.7,539.8" fill="#6e0016" stroke-width="2.3"/><polygon points="345.8,548.6 350.9,544.6 351.0,537.6 345.9,541.6" fill="#cc0028" stroke-width="2.3"/><polygon points="338.7,539.8 345.9,541.6 351.0,537.6 343.8,535.8" fill="#790018" stroke-width="2.9"/><polygon points="338.7,546.8 345.8,548.6 350.9,544.6 351.0,537.6 343.8,535.8 338.7,539.8" fill="none" stroke-width="2.9"/><polygon points="356.9,551.3 364.0,553.1 364.0,546.9 356.9,545.1" fill="#6e0016" stroke-width="2.3"/><polygon points="364.0,553.1 369.1,549.1 369.1,542.9 364.0,546.9" fill="#cc0028" stroke-width="2.3"/><polygon points="356.9,545.1 364.0,546.9 369.1,542.9 362.0,541.1" fill="#790018" stroke-width="2.9"/><polygon points="356.9,551.3 364.0,553.1 369.1,549.1 369.1,542.9 362.0,541.1 356.9,545.1" fill="none" stroke-width="2.9"/><polygon points="375.1,555.9 382.2,557.7 387.3,553.7 380.1,551.9" fill="#790018" stroke-width="3.3"/><polygon points="393.3,560.5 400.5,562.3 405.6,558.3 398.4,556.5" fill="#790018" stroke-width="3.3"/><polygon points="411.7,565.1 418.9,566.9 423.9,562.9 416.7,561.1" fill="#790018" stroke-width="3.3"/><polygon points="430.1,569.7 437.3,571.5 442.3,567.5 435.1,565.7" fill="#790018" stroke-width="3.3"/><polygon points="257.7,535.6 264.7,537.4 269.9,533.5 262.9,531.7" fill="#790018" stroke-width="3.3"/><polygon points="275.6,540.1 282.7,541.9 287.8,538.0 280.8,536.2" fill="#790018" stroke-width="3.3"/><polygon points="293.6,544.7 300.7,546.5 305.8,542.5 298.7,540.7" fill="#790018" stroke-width="3.3"/><polygon points="311.6,549.2 318.7,551.0 323.9,547.0 316.8,545.2" fill="#790018" stroke-width="3.3"/><polygon points="329.7,553.8 336.9,555.6 342.0,551.6 334.8,549.8" fill="#790018" stroke-width="3.3"/><polygon points="347.9,558.4 355.1,560.2 360.1,556.2 353.0,554.4" fill="#790018" stroke-width="3.3"/><polygon points="366.1,563.0 373.3,564.8 378.4,560.8 371.2,558.9" fill="#790018" stroke-width="3.3"/><polygon points="384.4,567.6 391.6,569.4 396.7,565.4 389.5,563.6" fill="#790018" stroke-width="3.3"/><polygon points="402.8,572.2 410.0,574.0 415.1,570.0 407.8,568.2" fill="#790018" stroke-width="3.3"/><polygon points="421.2,576.9 428.5,578.7 433.5,574.6 426.3,572.8" fill="#790018" stroke-width="3.3"/><polygon points="248.5,542.6 255.6,544.4 260.8,540.4 253.7,538.6" fill="#790018" stroke-width="3.3"/><polygon points="266.5,547.1 273.5,548.9 278.7,544.9 271.7,543.2" fill="#790018" stroke-width="3.3"/><polygon points="284.5,551.7 291.6,553.5 296.7,549.5 289.6,547.7" fill="#790018" stroke-width="3.3"/><polygon points="302.5,556.2 309.7,558.1 314.8,554.1 307.7,552.3" fill="#790018" stroke-width="3.3"/><polygon points="320.7,560.8 327.8,562.6 333.0,558.6 325.8,556.8" fill="#790018" stroke-width="3.3"/><polygon points="338.9,565.4 346.0,567.3 351.2,563.2 344.0,561.4" fill="#790018" stroke-width="3.3"/><polygon points="357.1,570.1 364.3,571.9 369.4,567.9 362.2,566.0" fill="#790018" stroke-width="3.3"/><polygon points="375.5,574.7 382.7,576.5 387.8,572.5 380.6,570.7" fill="#790018" stroke-width="3.3"/><polygon points="393.9,579.4 401.1,581.2 406.2,577.1 399.0,575.3" fill="#790018" stroke-width="3.3"/><polygon points="412.4,584.1 419.7,585.9 424.7,581.8 417.4,580.0" fill="#790018" stroke-width="3.3"/></g></g><g stroke="#000" stroke-width="2" stroke-linecap="butt"><line x1="17.0" y1="494.4" x2="424.5" y2="598.0"/><line x1="424.5" y1="598.0" x2="640.7" y2="421.3"/><line x1="640.7" y1="421.3" x2="658.3" y2="115.1"/><line x1="70.2" y1="512.9" x2="77.2" y2="507.3"/><line x1="135.6" y1="529.6" x2="142.6" y2="523.9"/><line x1="202.0" y1="546.4" x2="208.9" y2="540.7"/><line x1="269.2" y1="563.5" x2="276.2" y2="557.8"/><line x1="337.4" y1="580.9" x2="344.3" y2="575.2"/><line x1="406.5" y1="598.4" x2="413.4" y2="592.7"/><line x1="443.5" y1="588.7" x2="434.8" y2="586.5"/><line x1="490.6" y1="550.3" x2="481.9" y2="548.1"/><line x1="536.2" y1="513.0" x2="527.5" y2="510.8"/><line x1="580.5" y1="476.8" x2="571.8" y2="474.6"/><line x1="623.5" y1="441.7" x2="614.7" y2="439.5"/><line x1="646.5" y1="422.8" x2="637.8" y2="420.6"/><line x1="649.3" y1="374.1" x2="640.6" y2="371.9"/><line x1="652.2" y1="324.5" x2="643.5" y2="322.3"/><line x1="655.1" y1="274.0" x2="646.4" y2="271.7"/><line x1="658.0" y1="222.5" x2="649.3" y2="220.3"/><line x1="661.0" y1="170.1" x2="652.3" y2="167.8"/></g><g font-size="20.8" fill="#000"><text x="61.9" y="551.2" text-anchor="middle">30</text><text x="127.3" y="567.8" text-anchor="middle">40</text><text x="193.6" y="584.6" text-anchor="middle">50</text><text x="260.8" y="601.7" text-anchor="middle">60</text><text x="329.0" y="619.1" text-anchor="middle">70</text><text x="398.1" y="636.6" text-anchor="middle">80</text><text x="458.7" y="626.3" text-anchor="middle">10</text><text x="506.2" y="586.8" text-anchor="middle">20</text><text x="551.8" y="549.8" text-anchor="middle">30</text><text x="597.7" y="515.8" text-anchor="middle">40</text><text x="639.6" y="481.5" text-anchor="middle">50</text><text x="674.7" y="432.5" text-anchor="middle">0</text><text x="677.5" y="383.8" text-anchor="middle">2000</text><text x="680.4" y="334.2" text-anchor="middle">4000</text><text x="683.3" y="283.7" text-anchor="middle">6000</text><text x="686.2" y="232.2" text-anchor="middle">8000</text><text x="689.2" y="179.8" text-anchor="middle">10000</text></g><text font-size="22.4" text-anchor="middle" transform="translate(184,613.3) rotate(14.7)">Number of AUs</text><text font-size="22.4" text-anchor="middle" transform="translate(593,562) rotate(-38.5)">Number of GUs</text><text font-size="22.5" text-anchor="middle" transform="translate(732.5,266.5) rotate(-87.5)">Number of sequences</text><rect x="413" y="5.5" width="313" height="124" fill="#fff" stroke="#000" stroke-width="2"/><rect x="424" y="17.5" width="55.4" height="19.2" fill="#0a1f6b" stroke="#000" stroke-width="1.6"/><text x="499.3" y="36.9" font-size="26.7">All weights of 1</text><rect x="424" y="56.4" width="55.4" height="19.2" fill="#db002b" stroke="#000" stroke-width="1.6"/><text x="499.3" y="75.8" font-size="26.7">AU weight of 10</text><rect x="424" y="95.3" width="55.4" height="19.2" fill="#0a6638" stroke="#000" stroke-width="1.6"/><text x="499.3" y="114.7" font-size="26.7">GU weight of 10</text></svg></body></html>
